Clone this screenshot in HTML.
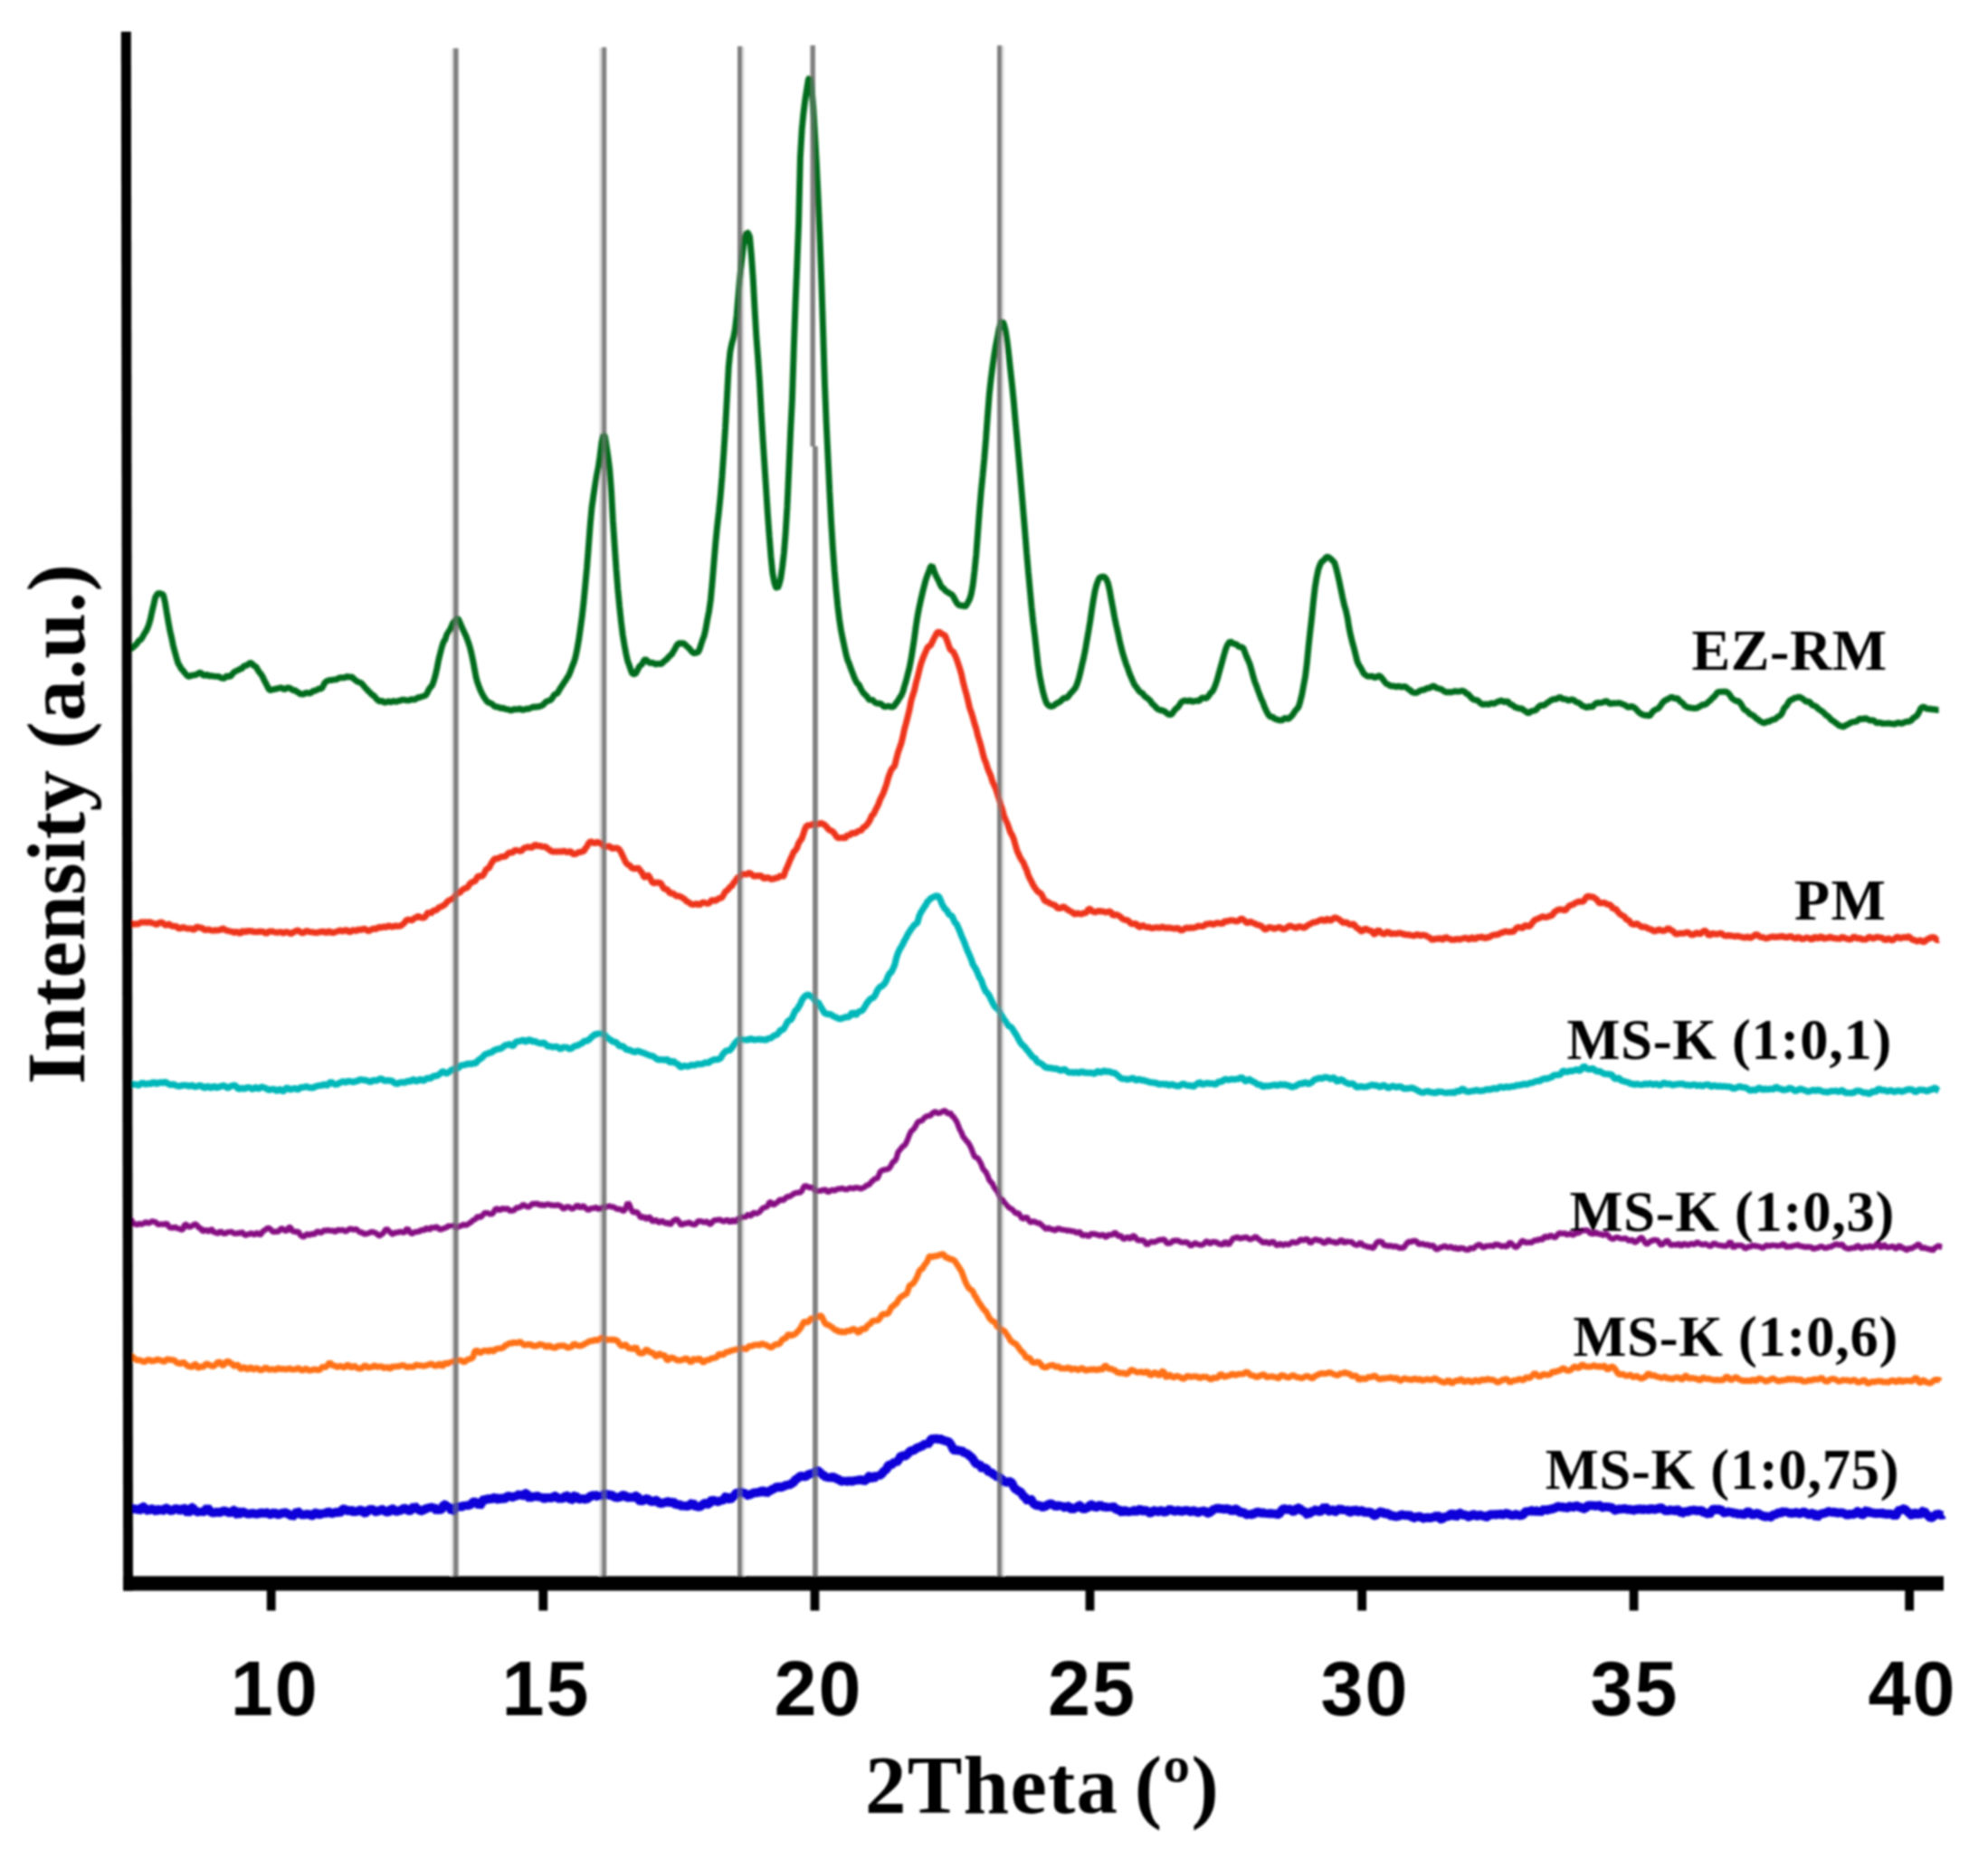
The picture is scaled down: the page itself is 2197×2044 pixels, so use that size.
<!DOCTYPE html>
<html lang="en"><head><meta charset="utf-8"><title>XRD patterns</title>
<style>
html,body{margin:0;padding:0;background:#fff;}
body{width:2197px;height:2044px;overflow:hidden;}
svg{display:block;}
.lab{font-family:"Liberation Serif",serif;font-weight:bold;font-size:64px;fill:#000;}
.ttl{font-family:"Liberation Serif",serif;font-weight:bold;font-size:91px;fill:#000;}
.tick{font-family:"Liberation Sans",sans-serif;font-weight:bold;font-size:84.5px;fill:#000;text-anchor:middle;letter-spacing:2px;}
.c{fill:none;stroke-linejoin:bevel;stroke-linecap:butt;}
</style></head><body>
<svg width="2197" height="2044" viewBox="0 0 2197 2044">
<defs><filter id="soft" x="0" y="0" width="2197" height="2044" filterUnits="userSpaceOnUse"><feGaussianBlur stdDeviation="1.2"/></filter></defs>
<rect x="0" y="0" width="2197" height="2044" fill="#ffffff"/>
<g filter="url(#soft)">
<g fill="#808080">
<rect x="500.8" y="53.5" width="5.7" height="1688.9"/>
<rect x="665.1" y="52.3" width="5.1" height="1690.1"/>
<rect x="815.0" y="51.2" width="5.3" height="1691.2"/>
<rect x="1102.0" y="50.3" width="5.3" height="1692.1"/>
<rect x="895.6" y="50.2" width="5.3" height="443"/>
<rect x="898.1" y="493" width="5.6" height="1249.4"/>
</g>
<g>
<rect x="498.4" y="54.0" width="2.4" height="1688.4" fill="#e8e8e8"/>
<rect x="662.4" y="53.0" width="2.7" height="1689.4" fill="#d6d6d6"/>
<rect x="820.3" y="52.0" width="2.4" height="1690.4" fill="#e2e2e2"/>
<rect x="1107.3" y="51.0" width="2.5" height="1691.4" fill="#e2e2e2"/>
</g>
<path class="c" d="M141.0 719.1 142.8 717.6 144.6 716.7 146.4 715.9 148.2 714.0 150.0 712.6 151.8 710.5 153.6 707.7 155.4 706.9 157.2 704.5 159.0 701.0 160.8 698.2 162.6 695.0 164.4 690.4 166.2 684.2 168.0 675.6 169.8 668.2 171.6 660.2 173.4 657.1 175.2 654.9 177.0 655.9 178.8 656.1 180.6 657.7 182.4 665.5 184.2 676.3 186.0 686.9 187.8 696.8 189.6 704.4 191.4 713.3 193.2 720.2 195.0 726.7 196.8 732.7 198.6 735.7 200.4 739.2 202.2 740.7 204.0 743.3 205.8 745.3 207.6 747.2 209.4 747.5 211.2 746.2 213.0 746.2 214.8 745.8 216.6 745.6 218.4 744.5 220.2 743.3 222.0 743.4 223.8 745.4 225.6 746.8 227.4 745.7 229.2 745.5 231.0 747.0 232.8 746.7 234.6 746.7 236.4 747.2 238.2 747.4 240.0 747.4 241.8 747.4 243.6 748.7 245.4 749.3 247.2 749.8 249.0 748.3 250.8 746.7 252.6 747.3 254.4 747.7 256.2 745.4 258.0 743.3 259.8 741.9 261.6 741.1 263.4 740.4 265.2 739.2 267.0 738.9 268.8 736.8 270.6 735.4 272.4 735.2 274.2 734.1 276.0 732.4 277.8 732.6 279.6 734.6 281.4 735.9 283.2 737.0 285.0 740.3 286.8 743.0 288.6 745.1 290.4 748.0 292.2 752.0 294.0 755.2 295.8 759.0 297.6 762.2 299.4 762.6 301.2 761.9 303.0 761.5 304.8 761.3 306.6 760.7 308.4 760.2 310.2 759.7 312.0 760.5 313.8 761.9 315.6 761.1 317.4 759.9 319.2 759.9 321.0 760.5 322.8 762.1 324.6 762.8 326.4 762.8 328.2 764.4 330.0 765.3 331.8 766.7 333.6 766.9 335.4 767.2 337.2 765.9 339.0 765.4 340.8 765.8 342.6 766.0 344.4 764.9 346.2 763.2 348.0 763.2 349.8 762.6 351.6 761.4 353.4 760.9 355.2 761.1 357.0 758.2 358.8 754.6 360.6 752.9 362.4 752.0 364.2 751.5 366.0 751.6 367.8 751.2 369.6 750.9 371.4 750.8 373.2 750.0 375.0 749.0 376.8 748.8 378.6 748.8 380.4 748.9 382.2 747.9 384.0 747.4 385.8 748.3 387.6 747.8 389.4 748.2 391.2 750.4 393.0 751.5 394.8 753.1 396.6 753.7 398.4 754.2 400.2 755.6 402.0 757.9 403.8 760.1 405.6 761.9 407.4 763.9 409.2 765.4 411.0 767.5 412.8 768.4 414.6 770.4 416.4 772.6 418.2 774.3 420.0 774.9 421.8 773.9 423.6 775.4 425.4 776.3 427.2 775.8 429.0 774.6 430.8 775.5 432.6 776.0 434.4 774.3 436.2 775.0 438.0 775.4 439.8 774.4 441.6 774.4 443.4 773.4 445.2 773.1 447.0 773.2 448.8 773.7 450.6 773.9 452.4 773.9 454.2 772.7 456.0 772.8 457.8 773.3 459.6 772.3 461.4 770.8 463.2 770.8 465.0 770.0 466.8 769.5 468.6 768.9 470.4 768.3 472.2 765.6 474.0 761.8 475.8 759.3 477.6 757.3 479.4 752.4 481.2 746.0 483.0 738.0 484.8 728.6 486.6 721.5 488.4 714.5 490.2 709.2 492.0 706.5 493.8 701.1 495.6 698.3 497.4 695.7 499.2 691.5 501.0 687.3 502.8 685.7 504.6 683.4 506.4 683.9 508.2 687.5 510.0 692.0 511.8 696.0 513.6 699.8 515.4 703.7 517.2 708.6 519.0 714.0 520.8 721.1 522.6 729.4 524.4 739.1 526.2 748.8 528.0 755.1 529.8 759.8 531.6 764.1 533.4 767.6 535.2 770.8 537.0 773.2 538.8 775.7 540.6 776.3 542.4 777.2 544.2 778.1 546.0 780.0 547.8 781.1 549.6 780.8 551.4 781.6 553.2 782.5 555.0 782.3 556.8 782.5 558.6 783.5 560.4 783.6 562.2 784.0 564.0 784.8 565.8 784.8 567.6 783.7 569.4 783.5 571.2 784.0 573.0 783.5 574.8 782.8 576.6 784.4 578.4 784.3 580.2 783.8 582.0 783.0 583.8 783.6 585.6 782.6 587.4 781.9 589.2 781.0 591.0 781.2 592.8 781.0 594.6 780.8 596.4 780.5 598.2 779.8 600.0 779.1 601.8 777.0 603.6 775.2 605.4 774.6 607.2 774.0 609.0 773.0 610.8 770.6 612.6 767.4 614.4 766.8 616.2 765.7 618.0 762.5 619.8 759.4 621.6 757.0 623.4 754.0 625.2 751.5 627.0 748.5 628.8 745.8 630.6 741.3 632.4 736.2 634.2 731.9 636.0 725.9 637.8 717.2 639.6 707.2 641.4 694.4 643.2 681.6 645.0 665.5 646.8 646.6 648.6 627.2 650.4 604.5 652.2 580.7 654.0 560.9 655.8 548.0 657.6 536.4 659.4 525.5 661.2 516.4 663.0 504.4 664.8 489.8 666.6 480.5 668.4 481.7 670.2 492.9 672.0 504.9 673.8 519.2 675.6 543.1 677.4 575.8 679.2 602.6 681.0 628.2 682.8 651.1 684.6 669.8 686.4 686.9 688.2 701.5 690.0 712.4 691.8 722.0 693.6 730.3 695.4 735.0 697.2 740.5 699.0 744.6 700.8 744.7 702.6 744.0 704.4 740.7 706.2 737.0 708.0 735.0 709.8 733.7 711.6 729.7 713.4 728.4 715.2 730.0 717.0 731.8 718.8 732.6 720.6 732.2 722.4 732.6 724.2 734.0 726.0 733.7 727.8 732.9 729.6 733.9 731.4 733.2 733.2 731.2 735.0 729.8 736.8 728.5 738.6 726.3 740.4 724.4 742.2 723.2 744.0 720.0 745.8 717.2 747.6 713.4 749.4 711.3 751.2 710.5 753.0 711.2 754.8 710.6 756.6 711.5 758.4 713.6 760.2 715.0 762.0 716.8 763.8 719.1 765.6 720.9 767.4 721.8 769.2 721.0 771.0 721.1 772.8 718.1 774.6 712.7 776.4 707.0 778.2 702.5 780.0 694.5 781.8 684.2 783.6 675.1 785.4 662.4 787.2 643.0 789.0 621.2 790.8 599.9 792.6 581.6 794.4 565.8 796.2 548.2 798.0 526.6 799.8 500.8 801.6 472.5 803.4 440.0 805.2 405.9 807.0 388.2 808.8 379.4 810.6 373.3 812.4 363.6 814.2 348.3 816.0 326.3 817.8 305.4 819.6 288.3 821.4 273.0 823.2 262.0 825.0 256.5 826.8 257.6 828.6 261.9 830.4 282.1 832.2 307.3 834.0 340.6 835.8 371.1 837.6 394.4 839.4 420.9 841.2 454.8 843.0 484.6 844.8 512.3 846.6 539.8 848.4 567.8 850.2 592.4 852.0 615.0 853.8 633.2 855.6 642.9 857.4 648.7 859.2 650.1 861.0 645.8 862.8 639.0 864.6 626.5 866.4 611.1 868.2 588.6 870.0 559.2 871.8 519.3 873.6 477.9 875.4 442.6 877.2 387.5 879.0 337.5 880.8 293.9 882.6 247.5 884.4 173.6 886.2 143.2 888.0 124.7 889.8 110.2 891.6 98.7 893.4 87.6 895.2 85.7 897.0 97.0 898.8 119.0 900.6 149.6 902.4 181.7 904.2 218.8 906.0 262.3 907.8 310.9 909.6 365.2 911.4 422.6 913.2 467.6 915.0 504.9 916.8 542.9 918.6 577.0 920.4 606.0 922.2 630.5 924.0 651.4 925.8 669.6 927.6 684.5 929.4 696.1 931.2 705.3 933.0 713.7 934.8 722.1 936.6 729.0 938.4 733.1 940.2 738.3 942.0 742.9 943.8 747.8 945.6 751.9 947.4 755.0 949.2 756.4 951.0 760.3 952.8 763.6 954.6 766.2 956.4 767.8 958.2 769.7 960.0 772.5 961.8 773.9 963.6 772.6 965.4 774.5 967.2 776.4 969.0 777.1 970.8 777.3 972.6 777.2 974.4 778.3 976.2 780.2 978.0 781.0 979.8 780.5 981.6 780.1 983.4 780.7 985.2 781.0 987.0 781.0 988.8 779.2 990.6 776.5 992.4 774.2 994.2 770.9 996.0 768.4 997.8 764.3 999.6 757.9 1001.4 752.0 1003.2 744.8 1005.0 737.8 1006.8 728.7 1008.6 717.4 1010.4 705.5 1012.2 692.3 1014.0 680.5 1015.8 671.2 1017.6 662.9 1019.4 655.1 1021.2 647.9 1023.0 641.1 1024.8 635.9 1026.6 631.4 1028.4 626.2 1030.2 624.9 1032.0 630.1 1033.8 634.9 1035.6 638.6 1037.4 641.8 1039.2 646.1 1041.0 649.2 1042.8 649.9 1044.6 652.5 1046.4 653.8 1048.2 654.7 1050.0 656.1 1051.8 656.7 1053.6 659.1 1055.4 662.7 1057.2 665.8 1059.0 668.1 1060.8 669.1 1062.6 669.0 1064.4 669.2 1066.2 670.6 1068.0 668.7 1069.8 665.4 1071.6 661.9 1073.4 656.0 1075.2 645.9 1077.0 630.6 1078.8 613.0 1080.6 589.2 1082.4 564.8 1084.2 543.7 1086.0 525.5 1087.8 506.6 1089.6 484.7 1091.4 460.1 1093.2 436.7 1095.0 419.8 1096.8 406.0 1098.6 393.2 1100.4 382.3 1102.2 373.5 1104.0 363.6 1105.8 356.7 1107.6 354.5 1109.4 358.0 1111.2 365.2 1113.0 376.8 1114.8 391.5 1116.6 408.4 1118.4 424.7 1120.2 442.6 1122.0 463.2 1123.8 483.1 1125.6 503.4 1127.4 524.3 1129.2 545.4 1131.0 566.9 1132.8 588.4 1134.6 611.0 1136.4 631.8 1138.2 651.2 1140.0 670.6 1141.8 687.6 1143.6 702.2 1145.4 718.5 1147.2 734.5 1149.0 746.9 1150.8 756.0 1152.6 764.4 1154.4 770.7 1156.2 776.2 1158.0 778.6 1159.8 780.2 1161.6 780.5 1163.4 780.2 1165.2 779.1 1167.0 777.5 1168.8 776.8 1170.6 775.6 1172.4 774.7 1174.2 772.4 1176.0 771.3 1177.8 771.3 1179.6 770.5 1181.4 768.3 1183.2 765.9 1185.0 764.1 1186.8 761.9 1188.6 759.8 1190.4 755.4 1192.2 749.8 1194.0 742.4 1195.8 734.4 1197.6 726.9 1199.4 718.0 1201.2 707.3 1203.0 697.0 1204.8 686.3 1206.6 673.7 1208.4 662.4 1210.2 652.3 1212.0 645.7 1213.8 640.9 1215.6 637.6 1217.4 637.5 1219.2 637.0 1221.0 637.7 1222.8 640.2 1224.6 644.8 1226.4 652.7 1228.2 663.0 1230.0 672.3 1231.8 682.4 1233.6 691.0 1235.4 698.6 1237.2 707.5 1239.0 714.9 1240.8 722.0 1242.6 727.7 1244.4 733.4 1246.2 738.0 1248.0 743.4 1249.8 747.7 1251.6 751.9 1253.4 755.9 1255.2 758.4 1257.0 760.8 1258.8 763.5 1260.6 765.1 1262.4 765.7 1264.2 768.3 1266.0 770.2 1267.8 771.1 1269.6 772.9 1271.4 774.4 1273.2 777.5 1275.0 778.9 1276.8 780.7 1278.6 782.9 1280.4 783.8 1282.2 784.8 1284.0 784.8 1285.8 785.5 1287.6 786.2 1289.4 787.9 1291.2 789.4 1293.0 789.6 1294.8 789.3 1296.6 786.7 1298.4 784.3 1300.2 782.5 1302.0 781.1 1303.8 778.3 1305.6 775.6 1307.4 774.5 1309.2 774.0 1311.0 774.3 1312.8 774.8 1314.6 773.9 1316.4 774.4 1318.2 775.3 1320.0 774.6 1321.8 774.4 1323.6 774.2 1325.4 774.5 1327.2 771.8 1329.0 771.0 1330.8 771.1 1332.6 771.9 1334.4 770.4 1336.2 768.1 1338.0 765.6 1339.8 763.9 1341.6 760.8 1343.4 756.3 1345.2 750.8 1347.0 744.2 1348.8 737.6 1350.6 731.2 1352.4 724.6 1354.2 718.4 1356.0 713.4 1357.8 710.4 1359.6 708.8 1361.4 709.9 1363.2 711.2 1365.0 711.4 1366.8 712.1 1368.6 714.1 1370.4 714.9 1372.2 715.0 1374.0 716.0 1375.8 720.7 1377.6 725.5 1379.4 729.5 1381.2 733.7 1383.0 739.9 1384.8 746.8 1386.6 753.0 1388.4 757.4 1390.2 762.6 1392.0 767.4 1393.8 772.2 1395.6 775.8 1397.4 780.8 1399.2 784.8 1401.0 788.3 1402.8 791.1 1404.6 792.2 1406.4 791.9 1408.2 793.9 1410.0 794.7 1411.8 794.9 1413.6 795.9 1415.4 795.8 1417.2 795.7 1419.0 794.0 1420.8 793.2 1422.6 794.2 1424.4 794.1 1426.2 792.2 1428.0 790.5 1429.8 787.8 1431.6 785.0 1433.4 783.3 1435.2 780.7 1437.0 774.7 1438.8 767.4 1440.6 757.7 1442.4 748.2 1444.2 734.0 1446.0 715.3 1447.8 698.5 1449.6 683.0 1451.4 665.1 1453.2 649.3 1455.0 638.4 1456.8 629.7 1458.6 624.5 1460.4 620.9 1462.2 619.6 1464.0 617.8 1465.8 615.5 1467.6 615.1 1469.4 616.5 1471.2 617.9 1473.0 619.7 1474.8 621.7 1476.6 627.7 1478.4 635.0 1480.2 643.1 1482.0 651.8 1483.8 660.5 1485.6 668.5 1487.4 674.5 1489.2 682.9 1491.0 694.2 1492.8 702.7 1494.6 710.0 1496.4 716.3 1498.2 723.6 1500.0 731.0 1501.8 734.9 1503.6 737.5 1505.4 740.9 1507.2 744.4 1509.0 745.6 1510.8 747.0 1512.6 747.4 1514.4 747.2 1516.2 746.9 1518.0 748.1 1519.8 748.8 1521.6 747.7 1523.4 746.8 1525.2 746.9 1527.0 749.0 1528.8 751.3 1530.6 753.8 1532.4 755.7 1534.2 756.2 1536.0 757.7 1537.8 758.0 1539.6 757.9 1541.4 758.4 1543.2 758.9 1545.0 758.3 1546.8 758.1 1548.6 759.2 1550.4 758.7 1552.2 758.5 1554.0 759.1 1555.8 761.0 1557.6 762.0 1559.4 763.5 1561.2 765.0 1563.0 765.4 1564.8 765.7 1566.6 764.9 1568.4 763.7 1570.2 762.8 1572.0 762.3 1573.8 762.2 1575.6 761.2 1577.4 760.3 1579.2 760.3 1581.0 759.5 1582.8 758.4 1584.6 757.9 1586.4 759.4 1588.2 760.3 1590.0 760.8 1591.8 761.2 1593.6 762.0 1595.4 763.3 1597.2 764.5 1599.0 764.8 1600.8 764.7 1602.6 764.6 1604.4 764.8 1606.2 764.3 1608.0 763.5 1609.8 764.0 1611.6 764.1 1613.4 763.8 1615.2 763.2 1617.0 763.5 1618.8 764.4 1620.6 766.4 1622.4 766.8 1624.2 768.9 1626.0 770.9 1627.8 772.6 1629.6 773.3 1631.4 773.4 1633.2 774.2 1635.0 775.8 1636.8 777.5 1638.6 778.2 1640.4 778.2 1642.2 777.9 1644.0 778.2 1645.8 778.3 1647.6 776.9 1649.4 777.1 1651.2 777.7 1653.0 776.5 1654.8 775.3 1656.6 775.0 1658.4 774.0 1660.2 774.3 1662.0 775.6 1663.8 775.5 1665.6 774.2 1667.4 776.4 1669.2 778.5 1671.0 778.5 1672.8 780.1 1674.6 781.9 1676.4 781.8 1678.2 782.7 1680.0 782.9 1681.8 782.7 1683.6 784.5 1685.4 785.5 1687.2 786.9 1689.0 787.9 1690.8 786.9 1692.6 785.6 1694.4 785.4 1696.2 784.9 1698.0 784.1 1699.8 781.6 1701.6 780.0 1703.4 779.1 1705.2 779.7 1707.0 778.8 1708.8 777.3 1710.6 776.1 1712.4 774.9 1714.2 773.7 1716.0 772.8 1717.8 772.3 1719.6 772.6 1721.4 771.5 1723.2 770.3 1725.0 770.8 1726.8 772.2 1728.6 772.4 1730.4 772.6 1732.2 773.6 1734.0 774.2 1735.8 773.0 1737.6 773.0 1739.4 773.6 1741.2 775.3 1743.0 775.9 1744.8 776.5 1746.6 777.8 1748.4 779.7 1750.2 780.3 1752.0 781.0 1753.8 782.0 1755.6 780.6 1757.4 780.4 1759.2 781.8 1761.0 779.6 1762.8 777.8 1764.6 776.7 1766.4 776.5 1768.2 776.6 1770.0 776.3 1771.8 775.9 1773.6 775.0 1775.4 774.5 1777.2 776.0 1779.0 777.5 1780.8 777.4 1782.6 776.8 1784.4 777.2 1786.2 776.9 1788.0 776.8 1789.8 776.6 1791.6 777.4 1793.4 778.2 1795.2 778.7 1797.0 779.9 1798.8 781.3 1800.6 781.3 1802.4 780.4 1804.2 780.7 1806.0 781.8 1807.8 783.2 1809.6 785.3 1811.4 787.2 1813.2 788.4 1815.0 789.4 1816.8 790.2 1818.6 790.2 1820.4 790.3 1822.2 791.2 1824.0 789.9 1825.8 787.1 1827.6 785.2 1829.4 784.1 1831.2 783.4 1833.0 782.5 1834.8 780.1 1836.6 777.4 1838.4 775.2 1840.2 773.8 1842.0 773.0 1843.8 772.2 1845.6 771.0 1847.4 769.8 1849.2 771.0 1851.0 772.2 1852.8 771.3 1854.6 772.2 1856.4 774.7 1858.2 775.9 1860.0 777.4 1861.8 779.8 1863.6 780.9 1865.4 781.7 1867.2 781.8 1869.0 782.3 1870.8 782.4 1872.6 782.5 1874.4 782.5 1876.2 781.9 1878.0 780.8 1879.8 779.9 1881.6 778.5 1883.4 778.7 1885.2 778.1 1887.0 776.5 1888.8 774.9 1890.6 773.4 1892.4 771.2 1894.2 769.9 1896.0 767.8 1897.8 765.2 1899.6 764.4 1901.4 764.4 1903.2 764.3 1905.0 764.3 1906.8 764.1 1908.6 764.7 1910.4 766.1 1912.2 768.7 1914.0 771.5 1915.8 772.8 1917.6 774.0 1919.4 774.7 1921.2 774.5 1923.0 776.6 1924.8 779.1 1926.6 782.4 1928.4 784.5 1930.2 785.0 1932.0 786.9 1933.8 788.8 1935.6 789.6 1937.4 790.5 1939.2 792.0 1941.0 794.0 1942.8 794.7 1944.6 796.6 1946.4 797.4 1948.2 798.5 1950.0 799.1 1951.8 797.7 1953.6 797.1 1955.4 797.2 1957.2 795.9 1959.0 795.2 1960.8 794.9 1962.6 793.9 1964.4 792.1 1966.2 791.3 1968.0 790.0 1969.8 787.1 1971.6 782.4 1973.4 780.9 1975.2 778.5 1977.0 775.2 1978.8 773.3 1980.6 772.9 1982.4 771.6 1984.2 771.0 1986.0 770.7 1987.8 770.0 1989.6 770.4 1991.4 771.4 1993.2 772.8 1995.0 774.5 1996.8 775.3 1998.6 775.0 2000.4 776.0 2002.2 778.7 2004.0 779.5 2005.8 780.1 2007.6 781.0 2009.4 783.3 2011.2 784.3 2013.0 785.6 2014.8 786.7 2016.6 788.7 2018.4 790.5 2020.2 791.3 2022.0 793.3 2023.8 795.5 2025.6 796.4 2027.4 797.7 2029.2 799.2 2031.0 800.4 2032.8 802.0 2034.6 802.1 2036.4 803.0 2038.2 802.7 2040.0 801.0 2041.8 800.6 2043.6 799.6 2045.4 798.3 2047.2 797.8 2049.0 797.4 2050.8 797.3 2052.6 796.5 2054.4 794.4 2056.2 794.1 2058.0 794.7 2059.8 794.4 2061.6 792.9 2063.4 794.6 2065.2 795.3 2067.0 796.3 2068.8 795.8 2070.6 795.9 2072.4 797.5 2074.2 799.0 2076.0 798.5 2077.8 797.9 2079.6 799.6 2081.4 799.3 2083.2 799.4 2085.0 799.4 2086.8 799.0 2088.6 799.3 2090.4 799.6 2092.2 799.8 2094.0 800.0 2095.8 799.3 2097.6 798.3 2099.4 798.8 2101.2 799.5 2103.0 799.0 2104.8 797.9 2106.6 797.5 2108.4 797.2 2110.2 797.0 2112.0 796.2 2113.8 794.0 2115.6 792.5 2117.4 791.6 2119.2 789.7 2121.0 786.4 2122.8 782.3 2124.6 781.5 2126.4 780.7 2128.2 782.8 2130.0 783.3 2131.8 783.1 2133.6 783.3 2135.4 784.0 2137.2 783.6 2139.0 784.2 2140.8 784.3 2142.6 784.2" stroke="#006c1e" stroke-width="6.9"/>
<path class="c" d="M141.0 1021.5 142.8 1020.7 144.6 1019.7 146.4 1021.0 148.2 1021.2 150.0 1020.5 151.8 1021.1 153.6 1020.7 155.4 1018.8 157.2 1019.1 159.0 1018.9 160.8 1018.7 162.6 1019.4 164.4 1018.7 166.2 1019.0 168.0 1019.8 169.8 1020.2 171.6 1020.8 173.4 1021.9 175.2 1019.9 177.0 1019.3 178.8 1018.8 180.6 1020.5 182.4 1022.1 184.2 1022.2 186.0 1020.8 187.8 1021.5 189.6 1023.2 191.4 1023.2 193.2 1023.6 195.0 1023.3 196.8 1025.4 198.6 1026.1 200.4 1025.4 202.2 1024.4 204.0 1025.0 205.8 1025.8 207.6 1026.1 209.4 1025.9 211.2 1026.0 213.0 1026.9 214.8 1027.3 216.6 1024.5 218.4 1024.1 220.2 1024.6 222.0 1025.2 223.8 1025.3 225.6 1027.3 227.4 1027.6 229.2 1027.1 231.0 1026.9 232.8 1027.8 234.6 1028.2 236.4 1028.1 238.2 1027.6 240.0 1028.1 241.8 1027.4 243.6 1028.0 245.4 1025.4 247.2 1026.4 249.0 1027.4 250.8 1028.5 252.6 1028.0 254.4 1029.6 256.2 1028.5 258.0 1030.6 259.8 1030.1 261.6 1029.3 263.4 1030.3 265.2 1031.8 267.0 1030.1 268.8 1027.6 270.6 1029.8 272.4 1029.4 274.2 1028.0 276.0 1029.2 277.8 1028.5 279.6 1029.4 281.4 1029.7 283.2 1029.3 285.0 1029.8 286.8 1028.9 288.6 1029.4 290.4 1029.2 292.2 1030.1 294.0 1031.8 295.8 1030.3 297.6 1028.8 299.4 1029.2 301.2 1029.1 303.0 1029.8 304.8 1030.2 306.6 1030.2 308.4 1029.9 310.2 1029.6 312.0 1030.6 313.8 1031.0 315.6 1029.7 317.4 1029.7 319.2 1030.4 321.0 1031.7 322.8 1031.2 324.6 1029.5 326.4 1029.2 328.2 1028.0 330.0 1028.3 331.8 1029.7 333.6 1030.7 335.4 1030.8 337.2 1029.2 339.0 1028.2 340.8 1029.5 342.6 1029.6 344.4 1029.9 346.2 1030.0 348.0 1030.4 349.8 1030.6 351.6 1030.2 353.4 1029.4 355.2 1029.9 357.0 1029.0 358.8 1029.6 360.6 1031.1 362.4 1029.5 364.2 1028.3 366.0 1030.3 367.8 1030.7 369.6 1030.3 371.4 1029.3 373.2 1028.9 375.0 1028.1 376.8 1028.1 378.6 1029.6 380.4 1028.2 382.2 1027.4 384.0 1028.1 385.8 1030.1 387.6 1029.4 389.4 1027.7 391.2 1027.7 393.0 1028.5 394.8 1028.1 396.6 1026.4 398.4 1027.6 400.2 1027.0 402.0 1026.1 403.8 1026.5 405.6 1028.1 407.4 1028.8 409.2 1027.5 411.0 1026.7 412.8 1025.7 414.6 1026.5 416.4 1026.3 418.2 1024.2 420.0 1024.7 421.8 1025.3 423.6 1023.4 425.4 1024.1 427.2 1024.5 429.0 1022.7 430.8 1023.2 432.6 1024.1 434.4 1024.1 436.2 1022.5 438.0 1023.4 439.8 1023.2 441.6 1023.2 443.4 1022.6 445.2 1021.1 447.0 1019.6 448.8 1016.9 450.6 1016.1 452.4 1016.2 454.2 1016.8 456.0 1016.8 457.8 1014.3 459.6 1013.9 461.4 1012.6 463.2 1012.4 465.0 1014.3 466.8 1013.7 468.6 1013.9 470.4 1012.5 472.2 1009.0 474.0 1007.8 475.8 1009.9 477.6 1007.5 479.4 1005.6 481.2 1006.2 483.0 1004.9 484.8 1003.0 486.6 1002.1 488.4 1001.4 490.2 1000.4 492.0 999.2 493.8 996.8 495.6 995.2 497.4 994.5 499.2 993.3 501.0 992.2 502.8 989.7 504.6 987.8 506.4 986.4 508.2 986.6 510.0 983.8 511.8 982.8 513.6 981.4 515.4 981.2 517.2 979.9 519.0 976.7 520.8 975.4 522.6 973.8 524.4 974.3 526.2 971.5 528.0 968.3 529.8 967.8 531.6 968.5 533.4 967.5 535.2 964.9 537.0 961.0 538.8 959.6 540.6 958.8 542.4 954.9 544.2 952.1 546.0 949.6 547.8 948.2 549.6 948.9 551.4 948.0 553.2 946.9 555.0 946.4 556.8 946.5 558.6 946.1 560.4 944.0 562.2 942.3 564.0 941.7 565.8 942.5 567.6 940.7 569.4 939.0 571.2 939.5 573.0 940.0 574.8 940.5 576.6 939.9 578.4 937.6 580.2 936.6 582.0 936.3 583.8 935.6 585.6 936.2 587.4 936.7 589.2 935.4 591.0 933.3 592.8 933.7 594.6 935.3 596.4 934.2 598.2 935.1 600.0 935.7 601.8 935.3 603.6 935.9 605.4 937.9 607.2 938.7 609.0 940.3 610.8 941.2 612.6 940.8 614.4 941.1 616.2 941.0 618.0 940.5 619.8 941.2 621.6 940.8 623.4 940.0 625.2 941.2 627.0 941.8 628.8 941.0 630.6 940.4 632.4 942.9 634.2 943.8 636.0 943.6 637.8 942.7 639.6 941.4 641.4 941.6 643.2 940.7 645.0 940.8 646.8 937.5 648.6 935.5 650.4 931.9 652.2 929.9 654.0 930.0 655.8 931.3 657.6 931.6 659.4 930.7 661.2 929.8 663.0 931.9 664.8 932.1 666.6 934.7 668.4 936.0 670.2 935.5 672.0 935.0 673.8 934.5 675.6 937.5 677.4 937.2 679.2 937.3 681.0 936.7 682.8 937.5 684.6 938.7 686.4 941.9 688.2 945.6 690.0 949.5 691.8 953.3 693.6 955.0 695.4 955.9 697.2 957.6 699.0 959.8 700.8 959.3 702.6 960.1 704.4 958.6 706.2 960.0 708.0 962.5 709.8 964.6 711.6 968.8 713.4 969.5 715.2 966.7 717.0 967.6 718.8 970.9 720.6 974.5 722.4 975.8 724.2 975.5 726.0 974.8 727.8 975.4 729.6 975.2 731.4 977.6 733.2 981.2 735.0 982.6 736.8 982.1 738.6 984.4 740.4 986.9 742.2 986.8 744.0 987.1 745.8 988.8 747.6 989.9 749.4 990.1 751.2 990.3 753.0 991.2 754.8 992.4 756.6 993.3 758.4 995.6 760.2 996.5 762.0 997.5 763.8 999.0 765.6 999.4 767.4 999.3 769.2 998.4 771.0 998.8 772.8 1000.4 774.6 998.3 776.4 997.2 778.2 997.1 780.0 997.9 781.8 998.3 783.6 998.1 785.4 995.9 787.2 993.9 789.0 995.1 790.8 995.4 792.6 993.8 794.4 992.6 796.2 992.4 798.0 991.6 799.8 988.4 801.6 985.1 803.4 983.9 805.2 982.2 807.0 979.7 808.8 978.9 810.6 975.8 812.4 973.6 814.2 970.9 816.0 969.0 817.8 969.0 819.6 966.6 821.4 965.4 823.2 966.0 825.0 966.2 826.8 965.0 828.6 964.2 830.4 965.9 832.2 967.3 834.0 968.6 835.8 967.5 837.6 967.7 839.4 967.5 841.2 967.5 843.0 969.7 844.8 971.0 846.6 969.8 848.4 969.5 850.2 970.0 852.0 971.7 853.8 970.9 855.6 970.9 857.4 970.0 859.2 970.0 861.0 968.8 862.8 967.3 864.6 969.0 866.4 967.2 868.2 961.5 870.0 957.9 871.8 953.5 873.6 949.1 875.4 945.5 877.2 941.2 879.0 939.6 880.8 936.8 882.6 931.4 884.4 928.7 886.2 926.3 888.0 920.8 889.8 915.3 891.6 912.1 893.4 912.0 895.2 911.8 897.0 911.3 898.8 909.9 900.6 911.1 902.4 910.7 904.2 910.8 906.0 909.7 907.8 909.4 909.6 910.5 911.4 911.4 913.2 913.2 915.0 915.6 916.8 917.3 918.6 917.9 920.4 918.8 922.2 921.0 924.0 923.9 925.8 925.7 927.6 925.7 929.4 925.7 931.2 925.3 933.0 926.1 934.8 925.4 936.6 922.1 938.4 923.1 940.2 921.9 942.0 919.7 943.8 920.8 945.6 920.4 947.4 919.1 949.2 917.5 951.0 918.6 952.8 916.0 954.6 913.7 956.4 913.1 958.2 910.8 960.0 908.5 961.8 905.3 963.6 900.7 965.4 899.7 967.2 895.6 969.0 892.1 970.8 888.5 972.6 883.3 974.4 879.9 976.2 876.2 978.0 871.3 979.8 866.1 981.6 859.5 983.4 854.3 985.2 850.1 987.0 848.0 988.8 845.9 990.6 838.3 992.4 831.5 994.2 826.3 996.0 821.3 997.8 813.9 999.6 805.2 1001.4 798.9 1003.2 791.6 1005.0 784.3 1006.8 775.0 1008.6 768.5 1010.4 763.2 1012.2 754.9 1014.0 748.3 1015.8 741.0 1017.6 733.9 1019.4 728.6 1021.2 724.2 1023.0 720.1 1024.8 715.9 1026.6 713.8 1028.4 713.3 1030.2 709.4 1032.0 705.7 1033.8 702.3 1035.6 698.9 1037.4 698.1 1039.2 698.9 1041.0 700.9 1042.8 701.2 1044.6 702.4 1046.4 707.2 1048.2 712.4 1050.0 717.2 1051.8 719.0 1053.6 720.3 1055.4 724.0 1057.2 728.1 1059.0 733.7 1060.8 739.0 1062.6 745.3 1064.4 753.9 1066.2 760.7 1068.0 766.9 1069.8 774.3 1071.6 782.1 1073.4 787.1 1075.2 792.8 1077.0 799.7 1078.8 805.0 1080.6 812.8 1082.4 818.5 1084.2 824.5 1086.0 831.9 1087.8 838.6 1089.6 842.7 1091.4 848.7 1093.2 853.3 1095.0 857.3 1096.8 863.5 1098.6 867.2 1100.4 871.1 1102.2 876.6 1104.0 882.4 1105.8 888.6 1107.6 894.0 1109.4 901.0 1111.2 905.6 1113.0 909.5 1114.8 914.5 1116.6 919.7 1118.4 922.5 1120.2 926.6 1122.0 933.0 1123.8 939.3 1125.6 943.6 1127.4 947.4 1129.2 950.5 1131.0 953.0 1132.8 957.6 1134.6 961.4 1136.4 967.1 1138.2 970.9 1140.0 974.2 1141.8 977.9 1143.6 980.8 1145.4 983.3 1147.2 985.4 1149.0 986.3 1150.8 987.7 1152.6 991.4 1154.4 994.8 1156.2 996.0 1158.0 996.4 1159.8 997.9 1161.6 998.5 1163.4 999.5 1165.2 999.7 1167.0 1001.3 1168.8 1003.5 1170.6 1003.6 1172.4 1003.5 1174.2 1001.9 1176.0 1002.0 1177.8 1003.5 1179.6 1005.0 1181.4 1005.8 1183.2 1007.2 1185.0 1007.6 1186.8 1009.8 1188.6 1010.0 1190.4 1008.7 1192.2 1009.6 1194.0 1009.7 1195.8 1009.9 1197.6 1008.7 1199.4 1008.7 1201.2 1007.6 1203.0 1004.2 1204.8 1004.3 1206.6 1006.5 1208.4 1007.3 1210.2 1008.1 1212.0 1007.3 1213.8 1006.1 1215.6 1007.0 1217.4 1006.8 1219.2 1007.1 1221.0 1007.6 1222.8 1008.2 1224.6 1007.2 1226.4 1007.1 1228.2 1008.2 1230.0 1011.9 1231.8 1010.9 1233.6 1010.5 1235.4 1011.1 1237.2 1012.3 1239.0 1013.8 1240.8 1015.5 1242.6 1016.1 1244.4 1016.6 1246.2 1016.8 1248.0 1018.4 1249.8 1020.5 1251.6 1020.7 1253.4 1020.7 1255.2 1020.1 1257.0 1022.6 1258.8 1024.2 1260.6 1024.2 1262.4 1021.6 1264.2 1023.3 1266.0 1024.3 1267.8 1024.4 1269.6 1024.2 1271.4 1025.1 1273.2 1025.8 1275.0 1025.2 1276.8 1024.8 1278.6 1024.8 1280.4 1024.9 1282.2 1025.1 1284.0 1024.2 1285.8 1023.9 1287.6 1026.1 1289.4 1024.8 1291.2 1025.2 1293.0 1025.0 1294.8 1025.6 1296.6 1025.7 1298.4 1026.3 1300.2 1025.6 1302.0 1025.4 1303.8 1027.1 1305.6 1028.2 1307.4 1027.3 1309.2 1026.0 1311.0 1024.8 1312.8 1025.3 1314.6 1025.5 1316.4 1024.8 1318.2 1025.4 1320.0 1024.8 1321.8 1024.4 1323.6 1023.3 1325.4 1023.0 1327.2 1023.5 1329.0 1023.6 1330.8 1022.8 1332.6 1021.1 1334.4 1020.9 1336.2 1020.7 1338.0 1019.7 1339.8 1021.5 1341.6 1021.3 1343.4 1020.2 1345.2 1019.5 1347.0 1020.1 1348.8 1019.9 1350.6 1021.0 1352.4 1019.2 1354.2 1017.2 1356.0 1018.2 1357.8 1017.4 1359.6 1016.8 1361.4 1017.0 1363.2 1017.1 1365.0 1017.6 1366.8 1018.1 1368.6 1017.4 1370.4 1015.8 1372.2 1015.0 1374.0 1015.9 1375.8 1017.7 1377.6 1019.4 1379.4 1019.9 1381.2 1018.0 1383.0 1018.9 1384.8 1019.7 1386.6 1020.3 1388.4 1021.4 1390.2 1021.9 1392.0 1022.4 1393.8 1023.0 1395.6 1024.8 1397.4 1026.6 1399.2 1027.1 1401.0 1025.2 1402.8 1024.4 1404.6 1025.0 1406.4 1025.3 1408.2 1026.4 1410.0 1025.4 1411.8 1025.1 1413.6 1024.3 1415.4 1025.0 1417.2 1026.3 1419.0 1027.0 1420.8 1025.5 1422.6 1024.9 1424.4 1022.9 1426.2 1023.0 1428.0 1023.7 1429.8 1024.4 1431.6 1025.4 1433.4 1025.0 1435.2 1023.3 1437.0 1024.1 1438.8 1024.0 1440.6 1025.6 1442.4 1024.5 1444.2 1023.0 1446.0 1021.8 1447.8 1021.0 1449.6 1020.0 1451.4 1018.9 1453.2 1019.1 1455.0 1018.4 1456.8 1017.7 1458.6 1016.7 1460.4 1016.2 1462.2 1016.1 1464.0 1018.6 1465.8 1015.8 1467.6 1015.1 1469.4 1016.9 1471.2 1017.1 1473.0 1015.0 1474.8 1013.8 1476.6 1014.1 1478.4 1015.0 1480.2 1016.0 1482.0 1017.5 1483.8 1019.3 1485.6 1019.6 1487.4 1018.7 1489.2 1019.8 1491.0 1021.2 1492.8 1021.8 1494.6 1020.9 1496.4 1021.2 1498.2 1024.0 1500.0 1025.7 1501.8 1025.8 1503.6 1028.6 1505.4 1029.3 1507.2 1027.2 1509.0 1025.8 1510.8 1026.8 1512.6 1028.0 1514.4 1028.5 1516.2 1028.2 1518.0 1031.9 1519.8 1032.4 1521.6 1029.0 1523.4 1027.5 1525.2 1029.3 1527.0 1031.0 1528.8 1032.1 1530.6 1031.6 1532.4 1030.0 1534.2 1028.8 1536.0 1031.1 1537.8 1032.0 1539.6 1031.3 1541.4 1031.6 1543.2 1031.8 1545.0 1031.1 1546.8 1030.7 1548.6 1031.6 1550.4 1031.4 1552.2 1033.1 1554.0 1032.4 1555.8 1032.9 1557.6 1032.7 1559.4 1033.4 1561.2 1033.7 1563.0 1034.0 1564.8 1032.8 1566.6 1032.2 1568.4 1033.5 1570.2 1033.7 1572.0 1033.0 1573.8 1033.3 1575.6 1033.4 1577.4 1035.0 1579.2 1035.5 1581.0 1036.8 1582.8 1039.0 1584.6 1037.6 1586.4 1037.2 1588.2 1037.5 1590.0 1036.8 1591.8 1036.7 1593.6 1038.3 1595.4 1037.7 1597.2 1034.7 1599.0 1036.3 1600.8 1037.0 1602.6 1037.4 1604.4 1038.7 1606.2 1038.0 1608.0 1038.4 1609.8 1037.5 1611.6 1037.5 1613.4 1038.2 1615.2 1037.2 1617.0 1036.9 1618.8 1036.1 1620.6 1036.4 1622.4 1038.0 1624.2 1037.6 1626.0 1035.6 1627.8 1036.1 1629.6 1038.7 1631.4 1036.4 1633.2 1035.3 1635.0 1036.0 1636.8 1035.1 1638.6 1035.3 1640.4 1036.6 1642.2 1036.4 1644.0 1035.4 1645.8 1035.7 1647.6 1034.3 1649.4 1033.3 1651.2 1033.0 1653.0 1032.6 1654.8 1032.8 1656.6 1032.0 1658.4 1030.7 1660.2 1030.5 1662.0 1029.6 1663.8 1028.9 1665.6 1029.3 1667.4 1029.9 1669.2 1029.3 1671.0 1029.6 1672.8 1029.1 1674.6 1026.8 1676.4 1025.0 1678.2 1024.3 1680.0 1024.9 1681.8 1025.5 1683.6 1024.7 1685.4 1022.1 1687.2 1022.7 1689.0 1023.4 1690.8 1023.4 1692.6 1020.7 1694.4 1018.4 1696.2 1016.3 1698.0 1015.7 1699.8 1014.9 1701.6 1014.2 1703.4 1013.3 1705.2 1012.5 1707.0 1013.2 1708.8 1013.5 1710.6 1013.0 1712.4 1011.8 1714.2 1011.9 1716.0 1010.6 1717.8 1007.5 1719.6 1006.7 1721.4 1005.3 1723.2 1004.8 1725.0 1005.1 1726.8 1004.9 1728.6 1005.8 1730.4 1005.5 1732.2 1003.0 1734.0 1001.0 1735.8 1000.1 1737.6 999.6 1739.4 998.9 1741.2 997.3 1743.0 996.9 1744.8 996.0 1746.6 996.2 1748.4 996.3 1750.2 995.5 1752.0 992.7 1753.8 990.4 1755.6 990.1 1757.4 991.2 1759.2 990.8 1761.0 991.1 1762.8 992.7 1764.6 993.8 1766.4 996.5 1768.2 998.4 1770.0 997.6 1771.8 997.6 1773.6 997.2 1775.4 999.0 1777.2 999.5 1779.0 999.6 1780.8 1001.0 1782.6 1004.4 1784.4 1003.7 1786.2 1004.7 1788.0 1007.5 1789.8 1009.5 1791.6 1010.8 1793.4 1011.7 1795.2 1012.7 1797.0 1015.5 1798.8 1016.5 1800.6 1017.1 1802.4 1020.4 1804.2 1021.1 1806.0 1021.8 1807.8 1020.5 1809.6 1020.8 1811.4 1022.1 1813.2 1023.4 1815.0 1024.7 1816.8 1023.7 1818.6 1024.6 1820.4 1025.0 1822.2 1026.4 1824.0 1026.7 1825.8 1027.1 1827.6 1029.2 1829.4 1028.5 1831.2 1028.2 1833.0 1026.7 1834.8 1027.4 1836.6 1028.3 1838.4 1028.4 1840.2 1028.0 1842.0 1026.7 1843.8 1025.2 1845.6 1027.1 1847.4 1028.0 1849.2 1029.1 1851.0 1031.1 1852.8 1032.4 1854.6 1031.4 1856.4 1031.3 1858.2 1031.3 1860.0 1031.3 1861.8 1031.0 1863.6 1030.2 1865.4 1030.1 1867.2 1031.4 1869.0 1032.9 1870.8 1032.8 1872.6 1032.4 1874.4 1030.3 1876.2 1031.0 1878.0 1031.9 1879.8 1031.5 1881.6 1029.5 1883.4 1028.3 1885.2 1028.6 1887.0 1031.3 1888.8 1034.2 1890.6 1032.5 1892.4 1030.9 1894.2 1031.9 1896.0 1032.1 1897.8 1032.3 1899.6 1031.6 1901.4 1030.9 1903.2 1031.9 1905.0 1033.5 1906.8 1033.9 1908.6 1034.0 1910.4 1032.8 1912.2 1034.0 1914.0 1033.9 1915.8 1034.2 1917.6 1034.9 1919.4 1034.1 1921.2 1034.3 1923.0 1034.9 1924.8 1035.2 1926.6 1035.7 1928.4 1036.0 1930.2 1035.2 1932.0 1035.0 1933.8 1036.9 1935.6 1035.5 1937.4 1034.8 1939.2 1033.3 1941.0 1032.0 1942.8 1033.3 1944.6 1034.9 1946.4 1035.6 1948.2 1035.6 1950.0 1036.3 1951.8 1036.8 1953.6 1036.6 1955.4 1035.6 1957.2 1035.3 1959.0 1034.8 1960.8 1034.9 1962.6 1036.2 1964.4 1034.6 1966.2 1035.1 1968.0 1035.0 1969.8 1033.7 1971.6 1035.5 1973.4 1035.6 1975.2 1035.7 1977.0 1034.9 1978.8 1034.1 1980.6 1035.5 1982.4 1036.3 1984.2 1037.1 1986.0 1036.1 1987.8 1034.7 1989.6 1036.8 1991.4 1037.5 1993.2 1037.2 1995.0 1036.6 1996.8 1035.7 1998.6 1036.3 2000.4 1036.9 2002.2 1038.9 2004.0 1036.5 2005.8 1034.8 2007.6 1036.0 2009.4 1037.4 2011.2 1035.3 2013.0 1034.1 2014.8 1037.1 2016.6 1037.0 2018.4 1036.2 2020.2 1036.7 2022.0 1035.3 2023.8 1035.2 2025.6 1036.9 2027.4 1036.5 2029.2 1036.9 2031.0 1037.0 2032.8 1037.5 2034.6 1036.3 2036.4 1034.8 2038.2 1036.5 2040.0 1036.7 2041.8 1037.5 2043.6 1037.7 2045.4 1038.2 2047.2 1036.3 2049.0 1034.5 2050.8 1036.0 2052.6 1037.2 2054.4 1036.6 2056.2 1036.8 2058.0 1038.3 2059.8 1037.7 2061.6 1038.1 2063.4 1037.1 2065.2 1035.3 2067.0 1035.5 2068.8 1036.6 2070.6 1037.1 2072.4 1035.9 2074.2 1035.1 2076.0 1035.5 2077.8 1036.0 2079.6 1036.0 2081.4 1037.0 2083.2 1039.2 2085.0 1038.0 2086.8 1036.6 2088.6 1037.6 2090.4 1039.3 2092.2 1038.6 2094.0 1037.1 2095.8 1035.4 2097.6 1035.1 2099.4 1036.5 2101.2 1036.8 2103.0 1035.4 2104.8 1035.6 2106.6 1036.3 2108.4 1034.7 2110.2 1035.1 2112.0 1037.2 2113.8 1038.4 2115.6 1038.6 2117.4 1039.5 2119.2 1040.1 2121.0 1039.2 2122.8 1038.6 2124.6 1040.6 2126.4 1040.7 2128.2 1039.2 2130.0 1037.5 2131.8 1037.3 2133.6 1035.8 2135.4 1036.0 2137.2 1035.1 2139.0 1037.1 2140.8 1039.0 2142.6 1038.4" stroke="#ee351a" stroke-width="7.0"/>
<path class="c" d="M141.0 1200.6 142.8 1199.2 144.6 1198.3 146.4 1197.9 148.2 1198.1 150.0 1198.0 151.8 1198.9 153.6 1199.1 155.4 1197.4 157.2 1195.9 159.0 1197.2 160.8 1198.2 162.6 1197.5 164.4 1197.1 166.2 1197.7 168.0 1196.9 169.8 1194.6 171.6 1197.0 173.4 1197.5 175.2 1196.6 177.0 1195.8 178.8 1196.3 180.6 1196.3 182.4 1195.1 184.2 1196.6 186.0 1197.4 187.8 1198.6 189.6 1198.5 191.4 1198.0 193.2 1198.6 195.0 1199.6 196.8 1200.0 198.6 1200.2 200.4 1199.4 202.2 1199.0 204.0 1199.3 205.8 1199.0 207.6 1199.7 209.4 1200.4 211.2 1199.0 213.0 1199.3 214.8 1200.9 216.6 1200.5 218.4 1200.2 220.2 1199.3 222.0 1199.3 223.8 1200.7 225.6 1202.4 227.4 1201.2 229.2 1199.5 231.0 1201.0 232.8 1202.0 234.6 1201.4 236.4 1199.8 238.2 1201.0 240.0 1202.5 241.8 1200.7 243.6 1200.6 245.4 1199.8 247.2 1199.2 249.0 1200.3 250.8 1202.0 252.6 1202.0 254.4 1200.2 256.2 1199.8 258.0 1199.3 259.8 1198.9 261.6 1201.5 263.4 1203.3 265.2 1203.0 267.0 1201.8 268.8 1202.9 270.6 1202.9 272.4 1201.7 274.2 1201.6 276.0 1201.7 277.8 1202.8 279.6 1203.7 281.4 1201.7 283.2 1201.3 285.0 1203.1 286.8 1202.5 288.6 1200.8 290.4 1201.2 292.2 1201.8 294.0 1202.5 295.8 1203.8 297.6 1204.4 299.4 1203.7 301.2 1203.5 303.0 1203.3 304.8 1204.9 306.6 1205.3 308.4 1203.7 310.2 1203.7 312.0 1205.9 313.8 1205.1 315.6 1202.6 317.4 1201.7 319.2 1203.1 321.0 1204.3 322.8 1203.1 324.6 1202.6 326.4 1202.6 328.2 1203.7 330.0 1203.7 331.8 1201.5 333.6 1201.4 335.4 1201.5 337.2 1200.7 339.0 1200.4 340.8 1201.7 342.6 1201.6 344.4 1202.0 346.2 1202.0 348.0 1200.5 349.8 1200.3 351.6 1199.5 353.4 1199.4 355.2 1199.5 357.0 1198.5 358.8 1197.8 360.6 1199.6 362.4 1198.6 364.2 1196.3 366.0 1195.2 367.8 1196.9 369.6 1198.0 371.4 1198.3 373.2 1197.8 375.0 1196.4 376.8 1196.0 378.6 1194.5 380.4 1195.4 382.2 1196.0 384.0 1194.7 385.8 1194.6 387.6 1194.9 389.4 1195.3 391.2 1195.7 393.0 1194.3 394.8 1194.8 396.6 1193.2 398.4 1192.8 400.2 1193.0 402.0 1193.4 403.8 1193.4 405.6 1194.0 407.4 1194.5 409.2 1195.8 411.0 1194.4 412.8 1193.4 414.6 1193.8 416.4 1193.9 418.2 1192.9 420.0 1191.8 421.8 1192.1 423.6 1193.3 425.4 1194.2 427.2 1193.9 429.0 1193.6 430.8 1194.1 432.6 1193.9 434.4 1195.1 436.2 1196.8 438.0 1197.3 439.8 1197.3 441.6 1196.1 443.4 1195.9 445.2 1195.5 447.0 1196.5 448.8 1195.4 450.6 1194.2 452.4 1194.8 454.2 1194.7 456.0 1192.5 457.8 1193.0 459.6 1194.9 461.4 1194.4 463.2 1193.0 465.0 1192.1 466.8 1194.0 468.6 1194.0 470.4 1192.5 472.2 1190.7 474.0 1191.5 475.8 1191.6 477.6 1190.0 479.4 1189.0 481.2 1188.6 483.0 1188.6 484.8 1187.5 486.6 1186.1 488.4 1184.2 490.2 1183.7 492.0 1185.6 493.8 1186.1 495.6 1185.0 497.4 1184.0 499.2 1181.7 501.0 1181.0 502.8 1180.8 504.6 1180.4 506.4 1180.4 508.2 1177.8 510.0 1177.0 511.8 1176.8 513.6 1176.4 515.4 1176.3 517.2 1174.4 519.0 1175.7 520.8 1175.6 522.6 1174.6 524.4 1174.9 526.2 1174.5 528.0 1171.9 529.8 1170.6 531.6 1169.4 533.4 1168.0 535.2 1165.8 537.0 1164.6 538.8 1164.3 540.6 1163.1 542.4 1163.1 544.2 1162.1 546.0 1160.3 547.8 1159.9 549.6 1159.1 551.4 1158.6 553.2 1158.8 555.0 1157.6 556.8 1156.2 558.6 1154.4 560.4 1154.9 562.2 1153.6 564.0 1154.0 565.8 1155.7 567.6 1155.2 569.4 1152.1 571.2 1150.4 573.0 1150.8 574.8 1150.2 576.6 1149.7 578.4 1148.8 580.2 1150.7 582.0 1151.1 583.8 1148.8 585.6 1148.8 587.4 1150.0 589.2 1151.0 591.0 1150.0 592.8 1151.6 594.6 1152.1 596.4 1152.4 598.2 1153.3 600.0 1152.0 601.8 1152.5 603.6 1154.3 605.4 1156.2 607.2 1156.0 609.0 1156.0 610.8 1157.1 612.6 1156.7 614.4 1156.3 616.2 1156.8 618.0 1158.3 619.8 1159.5 621.6 1157.1 623.4 1157.0 625.2 1157.0 627.0 1157.4 628.8 1158.8 630.6 1158.6 632.4 1157.9 634.2 1156.3 636.0 1155.4 637.8 1155.5 639.6 1154.4 641.4 1153.4 643.2 1152.9 645.0 1150.7 646.8 1150.0 648.6 1150.3 650.4 1149.1 652.2 1147.7 654.0 1145.4 655.8 1144.4 657.6 1142.7 659.4 1142.8 661.2 1142.1 663.0 1141.7 664.8 1142.7 666.6 1142.5 668.4 1143.1 670.2 1145.9 672.0 1147.1 673.8 1148.5 675.6 1149.5 677.4 1151.1 679.2 1151.1 681.0 1151.7 682.8 1153.7 684.6 1156.3 686.4 1155.6 688.2 1155.8 690.0 1157.2 691.8 1159.4 693.6 1160.0 695.4 1159.7 697.2 1160.9 699.0 1161.5 700.8 1162.3 702.6 1162.1 704.4 1161.0 706.2 1161.6 708.0 1162.2 709.8 1163.1 711.6 1163.5 713.4 1164.1 715.2 1165.1 717.0 1165.6 718.8 1166.5 720.6 1166.6 722.4 1167.3 724.2 1169.0 726.0 1170.1 727.8 1170.9 729.6 1170.8 731.4 1170.5 733.2 1171.2 735.0 1171.2 736.8 1170.1 738.6 1171.5 740.4 1174.4 742.2 1173.4 744.0 1171.7 745.8 1174.1 747.6 1175.3 749.4 1175.6 751.2 1178.6 753.0 1178.8 754.8 1178.1 756.6 1177.4 758.4 1177.9 760.2 1178.3 762.0 1177.7 763.8 1176.6 765.6 1176.9 767.4 1177.0 769.2 1176.4 771.0 1175.4 772.8 1175.8 774.6 1175.7 776.4 1175.5 778.2 1174.6 780.0 1173.3 781.8 1174.6 783.6 1174.1 785.4 1172.0 787.2 1171.7 789.0 1170.8 790.8 1170.5 792.6 1170.8 794.4 1170.1 796.2 1169.4 798.0 1166.3 799.8 1163.6 801.6 1162.1 803.4 1160.0 805.2 1161.3 807.0 1159.8 808.8 1157.7 810.6 1155.2 812.4 1152.3 814.2 1150.6 816.0 1148.8 817.8 1148.3 819.6 1148.5 821.4 1148.2 823.2 1149.6 825.0 1148.5 826.8 1149.0 828.6 1148.0 830.4 1147.5 832.2 1148.7 834.0 1148.9 835.8 1148.5 837.6 1148.4 839.4 1148.2 841.2 1148.7 843.0 1148.4 844.8 1148.9 846.6 1149.3 848.4 1147.6 850.2 1147.3 852.0 1146.9 853.8 1145.6 855.6 1144.1 857.4 1143.6 859.2 1142.7 861.0 1140.3 862.8 1137.8 864.6 1137.8 866.4 1136.4 868.2 1133.1 870.0 1129.4 871.8 1127.4 873.6 1127.2 875.4 1124.7 877.2 1120.3 879.0 1116.7 880.8 1115.3 882.6 1112.3 884.4 1109.5 886.2 1105.1 888.0 1102.4 889.8 1100.4 891.6 1099.4 893.4 1098.8 895.2 1100.3 897.0 1101.0 898.8 1102.5 900.6 1105.8 902.4 1107.2 904.2 1107.3 906.0 1110.6 907.8 1113.6 909.6 1116.6 911.4 1119.7 913.2 1119.9 915.0 1120.7 916.8 1120.5 918.6 1121.0 920.4 1122.4 922.2 1123.4 924.0 1124.0 925.8 1125.1 927.6 1125.6 929.4 1125.6 931.2 1124.8 933.0 1124.5 934.8 1123.5 936.6 1123.8 938.4 1123.4 940.2 1121.0 942.0 1118.1 943.8 1119.9 945.6 1122.1 947.4 1119.6 949.2 1117.5 951.0 1117.2 952.8 1116.6 954.6 1114.2 956.4 1111.1 958.2 1108.0 960.0 1106.1 961.8 1103.7 963.6 1103.0 965.4 1102.1 967.2 1099.4 969.0 1095.4 970.8 1092.3 972.6 1090.3 974.4 1089.8 976.2 1088.3 978.0 1086.1 979.8 1082.7 981.6 1078.2 983.4 1075.1 985.2 1073.9 987.0 1070.0 988.8 1066.0 990.6 1058.4 992.4 1053.0 994.2 1049.1 996.0 1046.1 997.8 1042.9 999.6 1039.1 1001.4 1036.2 1003.2 1032.3 1005.0 1029.6 1006.8 1026.7 1008.6 1024.4 1010.4 1022.0 1012.2 1020.8 1014.0 1019.2 1015.8 1012.2 1017.6 1008.3 1019.4 1005.6 1021.2 1002.4 1023.0 1000.0 1024.8 996.5 1026.6 994.9 1028.4 992.6 1030.2 991.9 1032.0 990.8 1033.8 990.1 1035.6 989.7 1037.4 990.5 1039.2 994.0 1041.0 998.8 1042.8 1001.9 1044.6 1004.6 1046.4 1005.9 1048.2 1009.4 1050.0 1011.4 1051.8 1011.3 1053.6 1015.5 1055.4 1019.5 1057.2 1020.9 1059.0 1025.0 1060.8 1029.2 1062.6 1034.1 1064.4 1038.0 1066.2 1042.4 1068.0 1047.4 1069.8 1051.8 1071.6 1055.7 1073.4 1060.2 1075.2 1065.6 1077.0 1068.4 1078.8 1071.4 1080.6 1075.7 1082.4 1080.0 1084.2 1082.4 1086.0 1087.7 1087.8 1092.3 1089.6 1095.7 1091.4 1097.4 1093.2 1099.9 1095.0 1103.8 1096.8 1107.4 1098.6 1111.0 1100.4 1112.9 1102.2 1114.4 1104.0 1116.3 1105.8 1119.6 1107.6 1123.1 1109.4 1126.3 1111.2 1128.4 1113.0 1131.6 1114.8 1133.8 1116.6 1134.2 1118.4 1136.0 1120.2 1139.0 1122.0 1141.9 1123.8 1144.5 1125.6 1148.3 1127.4 1151.4 1129.2 1153.9 1131.0 1155.3 1132.8 1157.1 1134.6 1159.7 1136.4 1161.5 1138.2 1164.1 1140.0 1166.3 1141.8 1168.6 1143.6 1168.3 1145.4 1171.8 1147.2 1173.9 1149.0 1174.2 1150.8 1175.3 1152.6 1176.6 1154.4 1178.6 1156.2 1179.6 1158.0 1179.4 1159.8 1180.4 1161.6 1179.7 1163.4 1180.5 1165.2 1180.9 1167.0 1180.3 1168.8 1181.5 1170.6 1182.0 1172.4 1183.0 1174.2 1182.1 1176.0 1181.3 1177.8 1182.2 1179.6 1184.1 1181.4 1185.0 1183.2 1185.0 1185.0 1184.6 1186.8 1185.3 1188.6 1184.7 1190.4 1184.9 1192.2 1185.8 1194.0 1184.6 1195.8 1183.4 1197.6 1185.1 1199.4 1185.1 1201.2 1185.0 1203.0 1185.9 1204.8 1185.0 1206.6 1185.4 1208.4 1186.0 1210.2 1186.6 1212.0 1183.6 1213.8 1183.9 1215.6 1184.7 1217.4 1184.8 1219.2 1183.3 1221.0 1183.2 1222.8 1184.4 1224.6 1183.7 1226.4 1184.1 1228.2 1184.9 1230.0 1185.5 1231.8 1185.2 1233.6 1186.7 1235.4 1188.5 1237.2 1190.0 1239.0 1191.6 1240.8 1192.0 1242.6 1192.0 1244.4 1192.2 1246.2 1193.0 1248.0 1192.1 1249.8 1191.9 1251.6 1191.1 1253.4 1191.9 1255.2 1193.8 1257.0 1193.2 1258.8 1192.0 1260.6 1193.3 1262.4 1193.6 1264.2 1193.4 1266.0 1194.5 1267.8 1194.7 1269.6 1195.4 1271.4 1196.1 1273.2 1195.7 1275.0 1196.7 1276.8 1196.3 1278.6 1196.7 1280.4 1198.3 1282.2 1198.0 1284.0 1197.4 1285.8 1197.9 1287.6 1198.1 1289.4 1197.5 1291.2 1199.1 1293.0 1198.9 1294.8 1197.8 1296.6 1198.4 1298.4 1199.7 1300.2 1199.3 1302.0 1200.9 1303.8 1199.3 1305.6 1198.5 1307.4 1197.0 1309.2 1198.3 1311.0 1198.9 1312.8 1199.5 1314.6 1199.3 1316.4 1199.3 1318.2 1201.0 1320.0 1199.8 1321.8 1198.1 1323.6 1197.5 1325.4 1195.3 1327.2 1196.9 1329.0 1198.6 1330.8 1197.5 1332.6 1197.0 1334.4 1196.4 1336.2 1197.5 1338.0 1197.2 1339.8 1197.0 1341.6 1197.9 1343.4 1198.4 1345.2 1196.7 1347.0 1194.4 1348.8 1195.3 1350.6 1195.0 1352.4 1193.1 1354.2 1192.2 1356.0 1192.9 1357.8 1193.1 1359.6 1192.8 1361.4 1192.2 1363.2 1192.6 1365.0 1192.6 1366.8 1192.1 1368.6 1192.1 1370.4 1191.0 1372.2 1190.2 1374.0 1191.9 1375.8 1194.1 1377.6 1195.1 1379.4 1192.1 1381.2 1192.7 1383.0 1193.9 1384.8 1195.3 1386.6 1195.6 1388.4 1197.2 1390.2 1198.5 1392.0 1197.9 1393.8 1199.1 1395.6 1201.0 1397.4 1200.3 1399.2 1198.9 1401.0 1200.8 1402.8 1199.6 1404.6 1199.5 1406.4 1199.1 1408.2 1198.7 1410.0 1198.9 1411.8 1199.6 1413.6 1198.6 1415.4 1197.9 1417.2 1198.6 1419.0 1198.7 1420.8 1197.9 1422.6 1199.4 1424.4 1199.3 1426.2 1200.4 1428.0 1201.2 1429.8 1200.4 1431.6 1200.0 1433.4 1199.0 1435.2 1197.9 1437.0 1196.9 1438.8 1197.6 1440.6 1196.8 1442.4 1195.2 1444.2 1196.9 1446.0 1197.9 1447.8 1196.8 1449.6 1196.0 1451.4 1193.9 1453.2 1192.4 1455.0 1192.4 1456.8 1191.5 1458.6 1190.8 1460.4 1191.9 1462.2 1191.1 1464.0 1190.1 1465.8 1190.4 1467.6 1190.6 1469.4 1191.6 1471.2 1192.4 1473.0 1190.7 1474.8 1190.8 1476.6 1193.9 1478.4 1195.3 1480.2 1193.3 1482.0 1192.6 1483.8 1193.3 1485.6 1195.1 1487.4 1196.1 1489.2 1196.8 1491.0 1197.9 1492.8 1197.3 1494.6 1197.2 1496.4 1198.0 1498.2 1200.5 1500.0 1201.4 1501.8 1200.9 1503.6 1199.7 1505.4 1200.9 1507.2 1200.8 1509.0 1200.9 1510.8 1200.7 1512.6 1199.9 1514.4 1199.3 1516.2 1198.4 1518.0 1199.1 1519.8 1199.5 1521.6 1199.1 1523.4 1200.4 1525.2 1201.4 1527.0 1200.0 1528.8 1199.0 1530.6 1199.4 1532.4 1200.9 1534.2 1202.3 1536.0 1201.3 1537.8 1200.3 1539.6 1199.6 1541.4 1200.9 1543.2 1201.4 1545.0 1200.7 1546.8 1200.6 1548.6 1200.7 1550.4 1202.2 1552.2 1203.1 1554.0 1202.7 1555.8 1202.7 1557.6 1202.4 1559.4 1201.9 1561.2 1202.1 1563.0 1202.9 1564.8 1203.9 1566.6 1204.7 1568.4 1205.9 1570.2 1206.6 1572.0 1207.3 1573.8 1206.9 1575.6 1206.1 1577.4 1205.8 1579.2 1205.6 1581.0 1207.6 1582.8 1206.7 1584.6 1207.0 1586.4 1208.2 1588.2 1206.3 1590.0 1206.0 1591.8 1206.5 1593.6 1206.4 1595.4 1206.9 1597.2 1207.3 1599.0 1207.5 1600.8 1207.1 1602.6 1207.2 1604.4 1206.7 1606.2 1207.4 1608.0 1207.3 1609.8 1205.1 1611.6 1205.7 1613.4 1205.8 1615.2 1203.5 1617.0 1202.7 1618.8 1205.2 1620.6 1205.7 1622.4 1206.4 1624.2 1206.0 1626.0 1205.6 1627.8 1205.3 1629.6 1205.2 1631.4 1204.4 1633.2 1204.7 1635.0 1205.6 1636.8 1205.1 1638.6 1205.2 1640.4 1204.6 1642.2 1203.8 1644.0 1203.4 1645.8 1204.2 1647.6 1203.4 1649.4 1203.1 1651.2 1202.0 1653.0 1202.9 1654.8 1203.1 1656.6 1201.6 1658.4 1200.5 1660.2 1201.4 1662.0 1201.6 1663.8 1200.8 1665.6 1200.7 1667.4 1201.5 1669.2 1200.7 1671.0 1200.2 1672.8 1200.6 1674.6 1199.7 1676.4 1198.9 1678.2 1199.4 1680.0 1198.7 1681.8 1198.7 1683.6 1197.5 1685.4 1197.8 1687.2 1198.3 1689.0 1197.4 1690.8 1196.7 1692.6 1196.4 1694.4 1196.0 1696.2 1195.1 1698.0 1194.5 1699.8 1194.2 1701.6 1194.7 1703.4 1192.8 1705.2 1192.5 1707.0 1191.4 1708.8 1192.0 1710.6 1192.0 1712.4 1190.3 1714.2 1190.9 1716.0 1188.7 1717.8 1187.8 1719.6 1188.0 1721.4 1187.1 1723.2 1187.9 1725.0 1186.6 1726.8 1183.3 1728.6 1183.3 1730.4 1184.2 1732.2 1184.6 1734.0 1183.3 1735.8 1183.2 1737.6 1183.6 1739.4 1182.5 1741.2 1182.2 1743.0 1181.4 1744.8 1182.9 1746.6 1182.9 1748.4 1179.9 1750.2 1178.0 1752.0 1179.0 1753.8 1181.2 1755.6 1181.2 1757.4 1181.8 1759.2 1180.5 1761.0 1180.8 1762.8 1182.6 1764.6 1184.1 1766.4 1183.6 1768.2 1183.5 1770.0 1185.0 1771.8 1185.9 1773.6 1186.6 1775.4 1186.5 1777.2 1186.8 1779.0 1187.2 1780.8 1186.6 1782.6 1189.5 1784.4 1191.9 1786.2 1191.9 1788.0 1190.9 1789.8 1191.6 1791.6 1194.2 1793.4 1194.2 1795.2 1194.7 1797.0 1195.5 1798.8 1195.5 1800.6 1196.6 1802.4 1197.8 1804.2 1197.2 1806.0 1198.5 1807.8 1197.9 1809.6 1197.6 1811.4 1198.2 1813.2 1198.5 1815.0 1198.5 1816.8 1197.8 1818.6 1197.3 1820.4 1198.5 1822.2 1197.4 1824.0 1196.8 1825.8 1198.1 1827.6 1198.3 1829.4 1197.6 1831.2 1197.7 1833.0 1198.7 1834.8 1199.5 1836.6 1197.7 1838.4 1196.2 1840.2 1196.9 1842.0 1198.0 1843.8 1197.5 1845.6 1197.4 1847.4 1198.6 1849.2 1198.9 1851.0 1198.2 1852.8 1198.2 1854.6 1197.6 1856.4 1197.6 1858.2 1197.6 1860.0 1197.4 1861.8 1198.7 1863.6 1198.8 1865.4 1198.6 1867.2 1199.1 1869.0 1199.1 1870.8 1198.5 1872.6 1198.4 1874.4 1199.0 1876.2 1200.1 1878.0 1198.5 1879.8 1199.4 1881.6 1200.3 1883.4 1198.9 1885.2 1198.5 1887.0 1198.3 1888.8 1198.6 1890.6 1200.8 1892.4 1200.2 1894.2 1199.1 1896.0 1199.6 1897.8 1200.4 1899.6 1200.1 1901.4 1199.9 1903.2 1200.7 1905.0 1200.1 1906.8 1200.4 1908.6 1200.9 1910.4 1200.5 1912.2 1200.9 1914.0 1201.6 1915.8 1203.6 1917.6 1202.1 1919.4 1201.8 1921.2 1200.7 1923.0 1200.3 1924.8 1201.2 1926.6 1201.4 1928.4 1201.5 1930.2 1202.1 1932.0 1203.5 1933.8 1204.9 1935.6 1204.7 1937.4 1203.6 1939.2 1204.6 1941.0 1204.4 1942.8 1202.3 1944.6 1201.9 1946.4 1203.0 1948.2 1204.5 1950.0 1203.2 1951.8 1203.0 1953.6 1204.1 1955.4 1203.2 1957.2 1203.1 1959.0 1203.7 1960.8 1202.8 1962.6 1200.7 1964.4 1201.7 1966.2 1203.3 1968.0 1202.8 1969.8 1204.3 1971.6 1204.1 1973.4 1204.1 1975.2 1203.7 1977.0 1202.1 1978.8 1202.5 1980.6 1203.0 1982.4 1204.6 1984.2 1205.8 1986.0 1204.7 1987.8 1203.9 1989.6 1202.6 1991.4 1203.6 1993.2 1204.3 1995.0 1204.7 1996.8 1205.8 1998.6 1206.4 2000.4 1205.5 2002.2 1204.9 2004.0 1204.0 2005.8 1205.3 2007.6 1204.9 2009.4 1203.8 2011.2 1204.9 2013.0 1205.2 2014.8 1206.3 2016.6 1206.3 2018.4 1206.3 2020.2 1207.2 2022.0 1205.9 2023.8 1205.3 2025.6 1205.6 2027.4 1205.5 2029.2 1205.1 2031.0 1206.1 2032.8 1206.1 2034.6 1204.8 2036.4 1204.4 2038.2 1206.7 2040.0 1207.6 2041.8 1207.3 2043.6 1207.5 2045.4 1207.8 2047.2 1207.1 2049.0 1207.3 2050.8 1205.8 2052.6 1204.9 2054.4 1205.4 2056.2 1205.6 2058.0 1206.7 2059.8 1207.7 2061.6 1207.0 2063.4 1207.5 2065.2 1208.6 2067.0 1208.0 2068.8 1206.1 2070.6 1205.7 2072.4 1207.0 2074.2 1204.6 2076.0 1202.8 2077.8 1203.4 2079.6 1205.5 2081.4 1204.3 2083.2 1204.6 2085.0 1205.5 2086.8 1206.1 2088.6 1204.4 2090.4 1204.9 2092.2 1205.9 2094.0 1206.5 2095.8 1205.4 2097.6 1205.1 2099.4 1205.1 2101.2 1206.2 2103.0 1206.0 2104.8 1204.9 2106.6 1204.6 2108.4 1203.4 2110.2 1203.9 2112.0 1203.6 2113.8 1204.1 2115.6 1205.9 2117.4 1206.7 2119.2 1205.1 2121.0 1204.0 2122.8 1204.0 2124.6 1204.5 2126.4 1204.3 2128.2 1205.2 2130.0 1205.7 2131.8 1204.6 2133.6 1203.6 2135.4 1203.8 2137.2 1202.4 2139.0 1201.7 2140.8 1204.3 2142.6 1205.2" stroke="#00b7b9" stroke-width="7.2"/>
<path class="c" d="M141.0 1354.0 142.8 1350.8 144.6 1347.1 146.4 1349.9 148.2 1352.5 150.0 1352.5 151.8 1353.5 153.6 1351.8 155.4 1352.4 157.2 1352.6 159.0 1351.6 160.8 1349.9 162.6 1351.0 164.4 1351.7 166.2 1350.5 168.0 1349.2 169.8 1349.7 171.6 1350.0 173.4 1351.9 175.2 1353.0 177.0 1352.7 178.8 1352.6 180.6 1352.6 182.4 1352.6 184.2 1351.4 186.0 1354.4 187.8 1356.6 189.6 1356.2 191.4 1356.8 193.2 1355.4 195.0 1356.6 196.8 1357.3 198.6 1357.9 200.4 1358.6 202.2 1358.7 204.0 1352.8 205.8 1352.9 207.6 1354.9 209.4 1355.8 211.2 1355.0 213.0 1354.0 214.8 1352.7 216.6 1352.7 218.4 1354.6 220.2 1357.1 222.0 1356.9 223.8 1360.5 225.6 1359.8 227.4 1358.4 229.2 1360.1 231.0 1360.7 232.8 1358.2 234.6 1358.6 236.4 1362.1 238.2 1361.4 240.0 1362.8 241.8 1362.3 243.6 1359.9 245.4 1361.8 247.2 1362.9 249.0 1363.0 250.8 1361.5 252.6 1361.3 254.4 1361.0 256.2 1360.8 258.0 1362.7 259.8 1362.8 261.6 1362.8 263.4 1362.2 265.2 1362.7 267.0 1361.2 268.8 1362.4 270.6 1365.0 272.4 1364.3 274.2 1363.7 276.0 1363.5 277.8 1362.0 279.6 1363.6 281.4 1364.2 283.2 1362.6 285.0 1362.1 286.8 1364.8 288.6 1363.3 290.4 1360.5 292.2 1359.6 294.0 1358.0 295.8 1356.9 297.6 1356.9 299.4 1358.6 301.2 1360.8 303.0 1361.2 304.8 1360.5 306.6 1361.2 308.4 1360.1 310.2 1357.4 312.0 1357.3 313.8 1359.0 315.6 1360.1 317.4 1359.6 319.2 1356.0 321.0 1355.9 322.8 1360.3 324.6 1360.2 326.4 1361.3 328.2 1360.9 330.0 1360.8 331.8 1364.5 333.6 1365.8 335.4 1366.8 337.2 1365.4 339.0 1363.2 340.8 1364.0 342.6 1364.8 344.4 1363.0 346.2 1363.5 348.0 1363.7 349.8 1360.8 351.6 1360.6 353.4 1361.7 355.2 1362.1 357.0 1360.2 358.8 1359.1 360.6 1359.8 362.4 1359.0 364.2 1359.7 366.0 1359.8 367.8 1359.5 369.6 1360.9 371.4 1360.7 373.2 1358.2 375.0 1359.3 376.8 1359.1 378.6 1358.8 380.4 1359.8 382.2 1360.8 384.0 1359.4 385.8 1358.1 387.6 1357.3 389.4 1358.4 391.2 1358.7 393.0 1357.8 394.8 1358.7 396.6 1360.7 398.4 1361.8 400.2 1361.2 402.0 1363.5 403.8 1363.4 405.6 1362.9 407.4 1362.5 409.2 1361.6 411.0 1360.8 412.8 1361.5 414.6 1362.0 416.4 1362.9 418.2 1365.0 420.0 1365.4 421.8 1363.6 423.6 1362.5 425.4 1359.5 427.2 1357.5 429.0 1359.4 430.8 1361.0 432.6 1363.0 434.4 1363.8 436.2 1361.6 438.0 1361.9 439.8 1361.7 441.6 1360.7 443.4 1361.1 445.2 1361.6 447.0 1362.0 448.8 1358.6 450.6 1357.1 452.4 1360.5 454.2 1363.0 456.0 1362.8 457.8 1361.2 459.6 1361.3 461.4 1360.6 463.2 1361.0 465.0 1359.2 466.8 1358.7 468.6 1359.9 470.4 1357.3 472.2 1356.6 474.0 1359.0 475.8 1357.5 477.6 1355.1 479.4 1357.4 481.2 1355.7 483.0 1355.6 484.8 1357.2 486.6 1359.3 488.4 1357.7 490.2 1357.4 492.0 1356.6 493.8 1356.0 495.6 1354.1 497.4 1354.8 499.2 1354.2 501.0 1353.7 502.8 1355.5 504.6 1356.7 506.4 1355.6 508.2 1354.5 510.0 1354.4 511.8 1352.7 513.6 1353.5 515.4 1353.7 517.2 1352.4 519.0 1351.3 520.8 1350.3 522.6 1348.3 524.4 1347.5 526.2 1346.3 528.0 1343.2 529.8 1345.0 531.6 1344.5 533.4 1342.6 535.2 1340.4 537.0 1340.0 538.8 1340.0 540.6 1341.2 542.4 1341.5 544.2 1341.2 546.0 1338.5 547.8 1335.2 549.6 1335.6 551.4 1336.9 553.2 1336.9 555.0 1334.9 556.8 1335.7 558.6 1336.0 560.4 1335.1 562.2 1336.3 564.0 1338.6 565.8 1337.2 567.6 1337.8 569.4 1335.7 571.2 1333.9 573.0 1334.5 574.8 1333.7 576.6 1332.4 578.4 1330.5 580.2 1332.4 582.0 1332.8 583.8 1333.9 585.6 1332.7 587.4 1330.8 589.2 1329.8 591.0 1330.4 592.8 1329.8 594.6 1329.9 596.4 1332.2 598.2 1330.8 600.0 1331.3 601.8 1332.0 603.6 1330.8 605.4 1330.5 607.2 1330.8 609.0 1331.6 610.8 1331.7 612.6 1331.9 614.4 1331.7 616.2 1331.4 618.0 1331.8 619.8 1332.6 621.6 1334.7 623.4 1336.1 625.2 1333.9 627.0 1333.3 628.8 1333.3 630.6 1334.8 632.4 1335.9 634.2 1334.7 636.0 1333.6 637.8 1331.1 639.6 1333.2 641.4 1334.5 643.2 1333.0 645.0 1332.2 646.8 1334.6 648.6 1335.9 650.4 1337.4 652.2 1335.4 654.0 1334.9 655.8 1335.0 657.6 1334.6 659.4 1333.5 661.2 1336.3 663.0 1336.0 664.8 1334.1 666.6 1333.5 668.4 1334.2 670.2 1333.7 672.0 1332.5 673.8 1332.6 675.6 1333.4 677.4 1333.4 679.2 1334.2 681.0 1335.4 682.8 1336.1 684.6 1335.7 686.4 1336.4 688.2 1338.0 690.0 1337.7 691.8 1334.0 693.6 1328.8 695.4 1330.7 697.2 1335.4 699.0 1338.8 700.8 1339.5 702.6 1338.9 704.4 1339.7 706.2 1342.1 708.0 1345.6 709.8 1344.8 711.6 1344.0 713.4 1346.6 715.2 1346.6 717.0 1343.9 718.8 1345.8 720.6 1349.2 722.4 1349.3 724.2 1347.3 726.0 1348.9 727.8 1350.8 729.6 1350.2 731.4 1348.7 733.2 1349.9 735.0 1351.6 736.8 1351.2 738.6 1350.7 740.4 1353.6 742.2 1351.4 744.0 1348.6 745.8 1348.3 747.6 1346.5 749.4 1348.5 751.2 1351.4 753.0 1354.0 754.8 1352.2 756.6 1351.6 758.4 1351.9 760.2 1351.0 762.0 1350.5 763.8 1352.4 765.6 1352.5 767.4 1353.3 769.2 1352.1 771.0 1349.4 772.8 1349.1 774.6 1349.4 776.4 1349.8 778.2 1350.6 780.0 1349.8 781.8 1349.6 783.6 1352.3 785.4 1352.6 787.2 1350.2 789.0 1348.2 790.8 1348.1 792.6 1347.9 794.4 1347.5 796.2 1347.7 798.0 1349.1 799.8 1349.6 801.6 1348.9 803.4 1347.4 805.2 1349.0 807.0 1350.8 808.8 1348.6 810.6 1348.1 812.4 1350.7 814.2 1348.1 816.0 1346.0 817.8 1346.5 819.6 1344.7 821.4 1344.7 823.2 1345.5 825.0 1343.0 826.8 1341.5 828.6 1343.6 830.4 1343.1 832.2 1339.9 834.0 1340.1 835.8 1341.2 837.6 1340.1 839.4 1339.1 841.2 1336.9 843.0 1334.9 844.8 1334.0 846.6 1333.7 848.4 1332.4 850.2 1328.3 852.0 1328.2 853.8 1330.8 855.6 1331.3 857.4 1329.3 859.2 1328.4 861.0 1326.3 862.8 1325.3 864.6 1326.3 866.4 1325.6 868.2 1323.6 870.0 1321.9 871.8 1322.3 873.6 1321.5 875.4 1320.1 877.2 1319.0 879.0 1318.0 880.8 1317.9 882.6 1317.5 884.4 1317.7 886.2 1315.7 888.0 1311.8 889.8 1309.6 891.6 1310.9 893.4 1311.3 895.2 1312.8 897.0 1310.9 898.8 1312.6 900.6 1315.8 902.4 1315.5 904.2 1316.0 906.0 1315.8 907.8 1314.9 909.6 1315.4 911.4 1314.0 913.2 1315.2 915.0 1317.7 916.8 1316.0 918.6 1315.1 920.4 1314.5 922.2 1316.1 924.0 1314.3 925.8 1313.6 927.6 1313.7 929.4 1313.1 931.2 1312.8 933.0 1313.9 934.8 1314.2 936.6 1314.1 938.4 1312.8 940.2 1312.5 942.0 1313.1 943.8 1313.1 945.6 1312.0 947.4 1312.3 949.2 1312.6 951.0 1313.5 952.8 1312.8 954.6 1312.0 956.4 1311.0 958.2 1309.0 960.0 1309.4 961.8 1307.4 963.6 1305.1 965.4 1303.9 967.2 1301.9 969.0 1302.7 970.8 1299.4 972.6 1294.9 974.4 1293.3 976.2 1292.8 978.0 1292.0 979.8 1292.1 981.6 1291.6 983.4 1290.0 985.2 1286.8 987.0 1283.3 988.8 1282.9 990.6 1279.7 992.4 1273.1 994.2 1270.8 996.0 1268.7 997.8 1266.3 999.6 1265.6 1001.4 1262.8 1003.2 1258.7 1005.0 1253.8 1006.8 1250.0 1008.6 1248.6 1010.4 1246.7 1012.2 1243.7 1014.0 1240.0 1015.8 1238.7 1017.6 1238.7 1019.4 1237.8 1021.2 1235.3 1023.0 1233.9 1024.8 1233.1 1026.6 1232.8 1028.4 1232.6 1030.2 1230.1 1032.0 1229.0 1033.8 1227.8 1035.6 1229.8 1037.4 1230.0 1039.2 1229.5 1041.0 1228.3 1042.8 1227.4 1044.6 1226.9 1046.4 1229.6 1048.2 1230.7 1050.0 1228.6 1051.8 1232.8 1053.6 1233.6 1055.4 1236.5 1057.2 1239.1 1059.0 1243.6 1060.8 1248.3 1062.6 1251.4 1064.4 1256.0 1066.2 1258.0 1068.0 1260.6 1069.8 1262.3 1071.6 1265.1 1073.4 1268.8 1075.2 1273.6 1077.0 1278.0 1078.8 1278.8 1080.6 1279.6 1082.4 1282.6 1084.2 1285.8 1086.0 1290.7 1087.8 1293.4 1089.6 1294.9 1091.4 1298.9 1093.2 1303.6 1095.0 1306.0 1096.8 1307.8 1098.6 1311.8 1100.4 1314.3 1102.2 1316.2 1104.0 1320.4 1105.8 1324.5 1107.6 1324.8 1109.4 1328.2 1111.2 1330.0 1113.0 1332.3 1114.8 1334.0 1116.6 1335.2 1118.4 1336.1 1120.2 1337.9 1122.0 1340.2 1123.8 1340.6 1125.6 1340.0 1127.4 1343.2 1129.2 1346.1 1131.0 1346.6 1132.8 1345.4 1134.6 1344.3 1136.4 1347.5 1138.2 1349.9 1140.0 1350.8 1141.8 1349.1 1143.6 1349.8 1145.4 1350.8 1147.2 1351.5 1149.0 1351.3 1150.8 1353.3 1152.6 1354.8 1154.4 1356.4 1156.2 1358.4 1158.0 1356.7 1159.8 1356.9 1161.6 1358.6 1163.4 1358.0 1165.2 1359.5 1167.0 1359.0 1168.8 1357.3 1170.6 1357.3 1172.4 1358.4 1174.2 1358.7 1176.0 1358.9 1177.8 1359.0 1179.6 1360.1 1181.4 1359.5 1183.2 1359.9 1185.0 1360.5 1186.8 1360.2 1188.6 1361.6 1190.4 1362.2 1192.2 1360.9 1194.0 1361.7 1195.8 1365.3 1197.6 1364.9 1199.4 1364.3 1201.2 1364.6 1203.0 1366.5 1204.8 1364.3 1206.6 1362.2 1208.4 1363.8 1210.2 1363.3 1212.0 1364.1 1213.8 1364.4 1215.6 1365.6 1217.4 1364.6 1219.2 1363.7 1221.0 1366.2 1222.8 1367.3 1224.6 1364.1 1226.4 1364.5 1228.2 1364.4 1230.0 1363.6 1231.8 1361.7 1233.6 1362.7 1235.4 1365.9 1237.2 1365.4 1239.0 1365.4 1240.8 1368.5 1242.6 1369.0 1244.4 1367.8 1246.2 1366.2 1248.0 1367.9 1249.8 1369.2 1251.6 1365.6 1253.4 1365.3 1255.2 1367.6 1257.0 1370.3 1258.8 1370.4 1260.6 1370.4 1262.4 1370.3 1264.2 1370.7 1266.0 1373.5 1267.8 1376.0 1269.6 1373.3 1271.4 1372.4 1273.2 1371.5 1275.0 1372.9 1276.8 1371.9 1278.6 1371.2 1280.4 1370.3 1282.2 1369.8 1284.0 1369.9 1285.8 1369.3 1287.6 1370.2 1289.4 1373.8 1291.2 1373.7 1293.0 1373.6 1294.8 1372.4 1296.6 1370.3 1298.4 1371.1 1300.2 1370.6 1302.0 1370.7 1303.8 1371.9 1305.6 1372.6 1307.4 1372.7 1309.2 1372.6 1311.0 1372.2 1312.8 1373.1 1314.6 1375.4 1316.4 1376.8 1318.2 1375.2 1320.0 1373.2 1321.8 1373.7 1323.6 1374.8 1325.4 1375.2 1327.2 1375.6 1329.0 1375.3 1330.8 1373.8 1332.6 1371.9 1334.4 1371.1 1336.2 1373.9 1338.0 1373.8 1339.8 1371.9 1341.6 1372.3 1343.4 1372.1 1345.2 1372.8 1347.0 1374.9 1348.8 1374.2 1350.6 1376.0 1352.4 1373.4 1354.2 1371.8 1356.0 1373.6 1357.8 1375.5 1359.6 1372.7 1361.4 1370.3 1363.2 1367.3 1365.0 1368.2 1366.8 1366.6 1368.6 1367.5 1370.4 1368.9 1372.2 1367.6 1374.0 1367.8 1375.8 1367.0 1377.6 1366.9 1379.4 1368.3 1381.2 1369.5 1383.0 1368.8 1384.8 1368.1 1386.6 1366.7 1388.4 1366.5 1390.2 1368.8 1392.0 1369.8 1393.8 1371.2 1395.6 1372.9 1397.4 1372.8 1399.2 1371.6 1401.0 1373.0 1402.8 1374.0 1404.6 1372.9 1406.4 1371.1 1408.2 1372.9 1410.0 1375.2 1411.8 1376.2 1413.6 1374.6 1415.4 1373.8 1417.2 1376.3 1419.0 1375.2 1420.8 1374.2 1422.6 1375.1 1424.4 1375.1 1426.2 1373.6 1428.0 1372.2 1429.8 1372.3 1431.6 1373.4 1433.4 1372.7 1435.2 1371.8 1437.0 1369.2 1438.8 1369.9 1440.6 1370.5 1442.4 1369.7 1444.2 1368.3 1446.0 1370.7 1447.8 1373.6 1449.6 1372.4 1451.4 1370.5 1453.2 1369.6 1455.0 1369.4 1456.8 1370.8 1458.6 1370.4 1460.4 1371.1 1462.2 1373.1 1464.0 1373.6 1465.8 1372.2 1467.6 1369.4 1469.4 1370.7 1471.2 1372.6 1473.0 1371.3 1474.8 1373.1 1476.6 1372.9 1478.4 1373.1 1480.2 1371.4 1482.0 1369.8 1483.8 1370.9 1485.6 1373.7 1487.4 1372.1 1489.2 1371.2 1491.0 1372.8 1492.8 1371.5 1494.6 1372.9 1496.4 1374.7 1498.2 1375.4 1500.0 1375.7 1501.8 1374.4 1503.6 1372.5 1505.4 1375.3 1507.2 1376.3 1509.0 1376.5 1510.8 1377.5 1512.6 1377.9 1514.4 1377.5 1516.2 1378.8 1518.0 1378.8 1519.8 1375.6 1521.6 1372.7 1523.4 1371.4 1525.2 1372.2 1527.0 1371.3 1528.8 1375.2 1530.6 1376.2 1532.4 1375.7 1534.2 1377.2 1536.0 1376.3 1537.8 1376.3 1539.6 1377.9 1541.4 1376.7 1543.2 1377.3 1545.0 1377.9 1546.8 1379.2 1548.6 1378.5 1550.4 1379.1 1552.2 1377.6 1554.0 1374.5 1555.8 1372.4 1557.6 1371.7 1559.4 1372.8 1561.2 1370.6 1563.0 1371.2 1564.8 1370.8 1566.6 1373.2 1568.4 1375.3 1570.2 1374.1 1572.0 1374.1 1573.8 1375.0 1575.6 1375.6 1577.4 1374.6 1579.2 1376.3 1581.0 1376.7 1582.8 1375.7 1584.6 1376.7 1586.4 1379.9 1588.2 1380.5 1590.0 1379.6 1591.8 1378.2 1593.6 1378.1 1595.4 1377.0 1597.2 1376.6 1599.0 1378.2 1600.8 1378.3 1602.6 1377.4 1604.4 1377.8 1606.2 1379.7 1608.0 1378.7 1609.8 1378.5 1611.6 1381.2 1613.4 1378.6 1615.2 1379.0 1617.0 1379.0 1618.8 1380.4 1620.6 1380.8 1622.4 1381.2 1624.2 1379.5 1626.0 1378.6 1627.8 1380.0 1629.6 1378.2 1631.4 1376.6 1633.2 1375.7 1635.0 1374.9 1636.8 1376.4 1638.6 1378.4 1640.4 1378.2 1642.2 1376.7 1644.0 1376.8 1645.8 1376.5 1647.6 1375.8 1649.4 1377.7 1651.2 1376.1 1653.0 1373.9 1654.8 1375.8 1656.6 1375.4 1658.4 1376.6 1660.2 1377.3 1662.0 1376.3 1663.8 1377.1 1665.6 1377.5 1667.4 1373.9 1669.2 1372.6 1671.0 1374.6 1672.8 1376.1 1674.6 1378.5 1676.4 1377.6 1678.2 1375.9 1680.0 1373.7 1681.8 1370.9 1683.6 1371.0 1685.4 1372.6 1687.2 1373.2 1689.0 1372.5 1690.8 1372.9 1692.6 1373.0 1694.4 1371.2 1696.2 1370.3 1698.0 1370.2 1699.8 1370.9 1701.6 1368.1 1703.4 1369.7 1705.2 1369.2 1707.0 1365.5 1708.8 1366.5 1710.6 1367.9 1712.4 1365.5 1714.2 1364.8 1716.0 1366.0 1717.8 1367.6 1719.6 1366.5 1721.4 1363.9 1723.2 1362.2 1725.0 1362.5 1726.8 1363.7 1728.6 1361.8 1730.4 1363.3 1732.2 1364.7 1734.0 1363.1 1735.8 1363.4 1737.6 1364.4 1739.4 1364.5 1741.2 1362.1 1743.0 1362.4 1744.8 1362.2 1746.6 1360.8 1748.4 1358.9 1750.2 1359.9 1752.0 1359.2 1753.8 1359.4 1755.6 1360.1 1757.4 1363.0 1759.2 1362.9 1761.0 1363.9 1762.8 1361.5 1764.6 1361.9 1766.4 1364.0 1768.2 1363.0 1770.0 1363.9 1771.8 1365.0 1773.6 1363.6 1775.4 1363.3 1777.2 1365.0 1779.0 1367.4 1780.8 1368.3 1782.6 1369.2 1784.4 1368.0 1786.2 1367.2 1788.0 1367.1 1789.8 1368.1 1791.6 1368.5 1793.4 1368.8 1795.2 1368.1 1797.0 1368.4 1798.8 1369.8 1800.6 1371.3 1802.4 1370.0 1804.2 1369.9 1806.0 1372.3 1807.8 1372.8 1809.6 1370.7 1811.4 1369.4 1813.2 1367.4 1815.0 1367.8 1816.8 1370.8 1818.6 1373.8 1820.4 1374.7 1822.2 1372.9 1824.0 1371.2 1825.8 1371.1 1827.6 1369.6 1829.4 1370.2 1831.2 1370.0 1833.0 1371.9 1834.8 1374.9 1836.6 1375.8 1838.4 1373.7 1840.2 1372.3 1842.0 1370.1 1843.8 1371.7 1845.6 1375.2 1847.4 1375.7 1849.2 1375.1 1851.0 1375.1 1852.8 1375.9 1854.6 1374.0 1856.4 1374.8 1858.2 1377.4 1860.0 1374.4 1861.8 1374.3 1863.6 1374.8 1865.4 1376.3 1867.2 1374.8 1869.0 1373.9 1870.8 1374.5 1872.6 1375.3 1874.4 1373.2 1876.2 1372.3 1878.0 1374.0 1879.8 1374.7 1881.6 1375.5 1883.4 1374.6 1885.2 1374.3 1887.0 1375.6 1888.8 1376.5 1890.6 1377.0 1892.4 1375.1 1894.2 1372.9 1896.0 1374.6 1897.8 1375.5 1899.6 1375.7 1901.4 1376.2 1903.2 1376.0 1905.0 1377.0 1906.8 1376.5 1908.6 1377.1 1910.4 1373.8 1912.2 1371.6 1914.0 1374.7 1915.8 1379.3 1917.6 1376.8 1919.4 1375.8 1921.2 1376.1 1923.0 1375.7 1924.8 1376.3 1926.6 1377.3 1928.4 1379.6 1930.2 1378.9 1932.0 1377.4 1933.8 1377.6 1935.6 1376.9 1937.4 1375.5 1939.2 1377.0 1941.0 1376.3 1942.8 1377.2 1944.6 1377.3 1946.4 1378.3 1948.2 1379.1 1950.0 1377.7 1951.8 1375.9 1953.6 1376.0 1955.4 1376.9 1957.2 1376.0 1959.0 1375.7 1960.8 1376.0 1962.6 1376.2 1964.4 1376.9 1966.2 1376.2 1968.0 1376.2 1969.8 1374.8 1971.6 1374.2 1973.4 1377.4 1975.2 1378.1 1977.0 1376.8 1978.8 1377.7 1980.6 1377.0 1982.4 1375.8 1984.2 1376.9 1986.0 1374.5 1987.8 1376.1 1989.6 1377.2 1991.4 1376.3 1993.2 1378.3 1995.0 1377.3 1996.8 1378.2 1998.6 1377.5 2000.4 1377.7 2002.2 1378.2 2004.0 1380.4 2005.8 1379.1 2007.6 1378.9 2009.4 1378.5 2011.2 1377.5 2013.0 1376.9 2014.8 1377.9 2016.6 1379.0 2018.4 1379.0 2020.2 1378.2 2022.0 1377.5 2023.8 1377.6 2025.6 1376.1 2027.4 1375.7 2029.2 1374.0 2031.0 1375.2 2032.8 1376.0 2034.6 1374.6 2036.4 1375.4 2038.2 1378.2 2040.0 1378.9 2041.8 1379.6 2043.6 1379.7 2045.4 1379.1 2047.2 1378.9 2049.0 1378.7 2050.8 1378.6 2052.6 1375.8 2054.4 1376.9 2056.2 1379.1 2058.0 1379.1 2059.8 1377.7 2061.6 1377.4 2063.4 1378.4 2065.2 1377.1 2067.0 1376.4 2068.8 1378.4 2070.6 1377.6 2072.4 1376.8 2074.2 1374.2 2076.0 1373.4 2077.8 1377.7 2079.6 1379.0 2081.4 1374.9 2083.2 1376.1 2085.0 1378.2 2086.8 1378.2 2088.6 1377.8 2090.4 1377.2 2092.2 1376.8 2094.0 1379.2 2095.8 1379.7 2097.6 1377.6 2099.4 1375.5 2101.2 1379.0 2103.0 1378.7 2104.8 1379.4 2106.6 1381.3 2108.4 1380.5 2110.2 1378.8 2112.0 1379.5 2113.8 1378.9 2115.6 1377.4 2117.4 1377.0 2119.2 1374.8 2121.0 1375.0 2122.8 1378.1 2124.6 1379.5 2126.4 1377.8 2128.2 1379.3 2130.0 1379.6 2131.8 1380.4 2133.6 1379.7 2135.4 1382.2 2137.2 1380.0 2139.0 1378.1 2140.8 1377.5 2142.6 1375.9 2144.4 1377.6 2146.2 1377.9" stroke="#860a82" stroke-width="6.2"/>
<path class="c" d="M141.0 1503.9 142.8 1502.1 144.6 1498.7 146.4 1498.7 148.2 1500.9 150.0 1501.8 151.8 1503.4 153.6 1502.4 155.4 1503.3 157.2 1503.8 159.0 1505.1 160.8 1504.0 162.6 1502.9 164.4 1502.0 166.2 1503.3 168.0 1503.9 169.8 1503.4 171.6 1503.3 173.4 1501.8 175.2 1502.3 177.0 1503.1 178.8 1503.1 180.6 1504.5 182.4 1503.9 184.2 1502.0 186.0 1501.6 187.8 1502.6 189.6 1502.5 191.4 1502.7 193.2 1503.1 195.0 1505.4 196.8 1506.0 198.6 1506.7 200.4 1506.6 202.2 1504.3 204.0 1506.4 205.8 1507.8 207.6 1509.2 209.4 1509.8 211.2 1510.3 213.0 1510.2 214.8 1507.0 216.6 1507.7 218.4 1511.0 220.2 1511.2 222.0 1509.1 223.8 1510.3 225.6 1509.7 227.4 1506.8 229.2 1507.0 231.0 1508.1 232.8 1508.5 234.6 1509.9 236.4 1509.1 238.2 1508.0 240.0 1505.7 241.8 1504.4 243.6 1505.6 245.4 1508.4 247.2 1508.6 249.0 1505.6 250.8 1504.4 252.6 1503.4 254.4 1506.5 256.2 1506.4 258.0 1508.8 259.8 1509.9 261.6 1507.7 263.4 1508.5 265.2 1511.7 267.0 1513.0 268.8 1511.1 270.6 1510.5 272.4 1512.5 274.2 1513.3 276.0 1510.9 277.8 1511.2 279.6 1513.4 281.4 1512.6 283.2 1511.3 285.0 1512.1 286.8 1513.4 288.6 1514.0 290.4 1513.2 292.2 1511.8 294.0 1510.5 295.8 1512.6 297.6 1513.4 299.4 1513.0 301.2 1512.7 303.0 1513.1 304.8 1513.7 306.6 1512.0 308.4 1511.3 310.2 1513.1 312.0 1512.5 313.8 1512.4 315.6 1513.1 317.4 1512.6 319.2 1512.2 321.0 1512.0 322.8 1513.6 324.6 1512.4 326.4 1513.7 328.2 1511.8 330.0 1511.6 331.8 1512.8 333.6 1514.3 335.4 1513.8 337.2 1512.4 339.0 1512.1 340.8 1514.2 342.6 1514.1 344.4 1513.9 346.2 1513.1 348.0 1512.7 349.8 1513.6 351.6 1513.5 353.4 1513.5 355.2 1511.4 357.0 1509.4 358.8 1510.7 360.6 1510.1 362.4 1507.9 364.2 1504.9 366.0 1507.0 367.8 1508.9 369.6 1508.8 371.4 1509.8 373.2 1510.5 375.0 1509.7 376.8 1509.0 378.6 1510.5 380.4 1510.9 382.2 1509.6 384.0 1507.7 385.8 1508.8 387.6 1511.3 389.4 1510.3 391.2 1508.6 393.0 1510.1 394.8 1511.3 396.6 1512.1 398.4 1512.0 400.2 1511.4 402.0 1509.5 403.8 1508.4 405.6 1510.2 407.4 1511.9 409.2 1510.1 411.0 1510.9 412.8 1509.0 414.6 1508.8 416.4 1510.3 418.2 1510.0 420.0 1509.9 421.8 1509.5 423.6 1511.1 425.4 1511.6 427.2 1509.8 429.0 1511.3 430.8 1512.1 432.6 1511.2 434.4 1508.8 436.2 1510.6 438.0 1509.6 439.8 1509.7 441.6 1509.5 443.4 1508.6 445.2 1508.5 447.0 1508.9 448.8 1510.2 450.6 1510.6 452.4 1509.9 454.2 1510.3 456.0 1510.2 457.8 1510.0 459.6 1507.7 461.4 1508.3 463.2 1508.6 465.0 1508.7 466.8 1509.1 468.6 1509.3 470.4 1508.7 472.2 1508.4 474.0 1507.5 475.8 1507.0 477.6 1507.0 479.4 1508.7 481.2 1509.1 483.0 1508.8 484.8 1506.7 486.6 1507.3 488.4 1510.0 490.2 1508.2 492.0 1505.2 493.8 1506.5 495.6 1506.5 497.4 1505.3 499.2 1504.6 501.0 1503.9 502.8 1503.8 504.6 1503.2 506.4 1502.7 508.2 1503.0 510.0 1503.1 511.8 1504.7 513.6 1504.9 515.4 1503.0 517.2 1502.0 519.0 1501.7 520.8 1500.9 522.6 1500.0 524.4 1493.8 526.2 1491.5 528.0 1492.8 529.8 1494.6 531.6 1494.5 533.4 1492.8 535.2 1492.3 537.0 1492.1 538.8 1493.2 540.6 1493.3 542.4 1490.1 544.2 1493.2 546.0 1492.7 547.8 1490.5 549.6 1490.3 551.4 1489.8 553.2 1489.8 555.0 1489.5 556.8 1488.5 558.6 1486.2 560.4 1486.1 562.2 1484.4 564.0 1484.0 565.8 1484.4 567.6 1483.2 569.4 1483.5 571.2 1483.8 573.0 1483.1 574.8 1482.3 576.6 1484.0 578.4 1485.5 580.2 1486.9 582.0 1484.9 583.8 1485.8 585.6 1485.2 587.4 1485.8 589.2 1487.9 591.0 1486.9 592.8 1487.1 594.6 1486.3 596.4 1485.1 598.2 1485.6 600.0 1485.8 601.8 1486.9 603.6 1489.1 605.4 1487.4 607.2 1485.6 609.0 1488.7 610.8 1488.6 612.6 1489.0 614.4 1489.1 616.2 1486.9 618.0 1487.2 619.8 1487.0 621.6 1486.6 623.4 1486.8 625.2 1487.8 627.0 1489.1 628.8 1488.8 630.6 1488.3 632.4 1487.6 634.2 1484.2 636.0 1485.5 637.8 1486.6 639.6 1486.8 641.4 1487.3 643.2 1486.2 645.0 1485.9 646.8 1484.2 648.6 1483.7 650.4 1482.5 652.2 1481.5 654.0 1481.8 655.8 1481.2 657.6 1480.0 659.4 1481.1 661.2 1480.6 663.0 1479.4 664.8 1477.2 666.6 1478.7 668.4 1478.7 670.2 1480.8 672.0 1480.2 673.8 1480.2 675.6 1480.4 677.4 1479.8 679.2 1480.7 681.0 1480.4 682.8 1482.2 684.6 1484.8 686.4 1486.7 688.2 1487.3 690.0 1485.8 691.8 1485.7 693.6 1488.5 695.4 1490.2 697.2 1489.2 699.0 1491.0 700.8 1489.7 702.6 1487.7 704.4 1491.5 706.2 1495.1 708.0 1495.1 709.8 1495.4 711.6 1494.3 713.4 1491.6 715.2 1490.9 717.0 1492.9 718.8 1494.5 720.6 1494.4 722.4 1495.4 724.2 1498.2 726.0 1498.7 727.8 1495.6 729.6 1495.9 731.4 1497.7 733.2 1497.5 735.0 1497.5 736.8 1502.8 738.6 1502.7 740.4 1500.9 742.2 1499.3 744.0 1500.9 745.8 1501.1 747.6 1502.8 749.4 1503.2 751.2 1503.0 753.0 1502.9 754.8 1502.1 756.6 1501.6 758.4 1499.9 760.2 1502.4 762.0 1503.7 763.8 1505.8 765.6 1502.8 767.4 1500.3 769.2 1503.2 771.0 1501.8 772.8 1500.8 774.6 1502.5 776.4 1504.9 778.2 1505.3 780.0 1502.9 781.8 1502.6 783.6 1502.5 785.4 1501.3 787.2 1500.7 789.0 1500.4 790.8 1500.1 792.6 1499.1 794.4 1495.7 796.2 1496.4 798.0 1496.8 799.8 1496.7 801.6 1494.5 803.4 1493.6 805.2 1493.6 807.0 1492.7 808.8 1492.1 810.6 1491.7 812.4 1491.3 814.2 1490.7 816.0 1490.7 817.8 1490.4 819.6 1489.6 821.4 1489.3 823.2 1491.0 825.0 1490.3 826.8 1488.4 828.6 1486.9 830.4 1487.6 832.2 1486.7 834.0 1486.0 835.8 1485.9 837.6 1485.9 839.4 1486.4 841.2 1484.8 843.0 1484.6 844.8 1485.7 846.6 1486.0 848.4 1487.1 850.2 1488.2 852.0 1488.9 853.8 1488.0 855.6 1486.3 857.4 1485.4 859.2 1485.1 861.0 1485.4 862.8 1482.8 864.6 1480.1 866.4 1479.0 868.2 1479.2 870.0 1476.0 871.8 1473.4 873.6 1475.6 875.4 1475.5 877.2 1474.7 879.0 1473.7 880.8 1471.9 882.6 1470.0 884.4 1467.9 886.2 1464.7 888.0 1461.1 889.8 1459.9 891.6 1461.2 893.4 1460.6 895.2 1458.0 897.0 1456.3 898.8 1457.0 900.6 1456.4 902.4 1455.7 904.2 1454.7 906.0 1453.5 907.8 1454.1 909.6 1457.5 911.4 1461.5 913.2 1463.5 915.0 1463.4 916.8 1464.8 918.6 1465.7 920.4 1467.1 922.2 1469.0 924.0 1469.9 925.8 1469.7 927.6 1472.5 929.4 1471.3 931.2 1470.9 933.0 1473.3 934.8 1470.9 936.6 1470.3 938.4 1470.4 940.2 1470.7 942.0 1467.7 943.8 1468.9 945.6 1468.8 947.4 1471.8 949.2 1472.7 951.0 1470.0 952.8 1467.3 954.6 1468.4 956.4 1468.6 958.2 1465.3 960.0 1463.3 961.8 1463.2 963.6 1459.9 965.4 1459.2 967.2 1459.1 969.0 1458.9 970.8 1458.6 972.6 1456.0 974.4 1453.0 976.2 1451.5 978.0 1451.9 979.8 1451.8 981.6 1450.9 983.4 1447.9 985.2 1444.1 987.0 1443.2 988.8 1441.2 990.6 1440.4 992.4 1437.2 994.2 1434.4 996.0 1432.6 997.8 1431.8 999.6 1430.1 1001.4 1430.3 1003.2 1426.3 1005.0 1420.8 1006.8 1419.4 1008.6 1418.7 1010.4 1416.3 1012.2 1413.3 1014.0 1409.5 1015.8 1404.6 1017.6 1402.3 1019.4 1401.9 1021.2 1398.3 1023.0 1396.0 1024.8 1393.6 1026.6 1388.9 1028.4 1387.7 1030.2 1389.2 1032.0 1387.9 1033.8 1387.5 1035.6 1388.2 1037.4 1386.7 1039.2 1386.2 1041.0 1385.9 1042.8 1385.4 1044.6 1389.1 1046.4 1389.5 1048.2 1389.7 1050.0 1391.8 1051.8 1391.2 1053.6 1392.0 1055.4 1393.6 1057.2 1396.4 1059.0 1398.9 1060.8 1402.0 1062.6 1404.7 1064.4 1409.6 1066.2 1414.5 1068.0 1418.6 1069.8 1421.8 1071.6 1424.1 1073.4 1425.2 1075.2 1427.0 1077.0 1431.3 1078.8 1433.4 1080.6 1437.2 1082.4 1439.9 1084.2 1442.3 1086.0 1445.1 1087.8 1447.6 1089.6 1448.8 1091.4 1452.3 1093.2 1455.9 1095.0 1458.1 1096.8 1459.8 1098.6 1460.1 1100.4 1462.3 1102.2 1466.0 1104.0 1466.8 1105.8 1467.9 1107.6 1469.8 1109.4 1470.0 1111.2 1472.3 1113.0 1475.2 1114.8 1477.5 1116.6 1480.9 1118.4 1482.5 1120.2 1483.9 1122.0 1484.3 1123.8 1486.4 1125.6 1488.8 1127.4 1491.4 1129.2 1493.3 1131.0 1494.8 1132.8 1497.7 1134.6 1500.8 1136.4 1500.1 1138.2 1500.7 1140.0 1504.1 1141.8 1505.8 1143.6 1505.4 1145.4 1505.4 1147.2 1503.8 1149.0 1506.2 1150.8 1508.1 1152.6 1510.6 1154.4 1510.3 1156.2 1511.1 1158.0 1509.6 1159.8 1508.9 1161.6 1508.5 1163.4 1508.0 1165.2 1509.4 1167.0 1510.8 1168.8 1509.0 1170.6 1510.5 1172.4 1512.2 1174.2 1511.8 1176.0 1511.9 1177.8 1512.1 1179.6 1511.5 1181.4 1510.2 1183.2 1513.3 1185.0 1513.2 1186.8 1512.0 1188.6 1512.3 1190.4 1513.3 1192.2 1513.9 1194.0 1512.1 1195.8 1511.4 1197.6 1512.4 1199.4 1514.6 1201.2 1513.7 1203.0 1513.7 1204.8 1512.9 1206.6 1513.4 1208.4 1512.9 1210.2 1512.9 1212.0 1514.4 1213.8 1513.0 1215.6 1512.3 1217.4 1514.3 1219.2 1511.1 1221.0 1508.9 1222.8 1509.3 1224.6 1512.5 1226.4 1512.2 1228.2 1512.3 1230.0 1513.5 1231.8 1513.7 1233.6 1515.3 1235.4 1517.0 1237.2 1516.6 1239.0 1517.1 1240.8 1516.9 1242.6 1517.2 1244.4 1518.4 1246.2 1517.7 1248.0 1515.9 1249.8 1513.4 1251.6 1513.8 1253.4 1514.6 1255.2 1515.6 1257.0 1516.3 1258.8 1516.0 1260.6 1515.6 1262.4 1516.1 1264.2 1516.6 1266.0 1516.3 1267.8 1514.5 1269.6 1517.5 1271.4 1519.8 1273.2 1518.8 1275.0 1516.7 1276.8 1516.2 1278.6 1518.0 1280.4 1520.1 1282.2 1518.8 1284.0 1515.3 1285.8 1514.6 1287.6 1519.7 1289.4 1522.6 1291.2 1519.2 1293.0 1519.2 1294.8 1520.7 1296.6 1521.8 1298.4 1521.7 1300.2 1519.8 1302.0 1520.7 1303.8 1521.2 1305.6 1522.8 1307.4 1523.3 1309.2 1523.2 1311.0 1520.7 1312.8 1520.2 1314.6 1520.9 1316.4 1521.4 1318.2 1521.0 1320.0 1520.6 1321.8 1520.8 1323.6 1520.9 1325.4 1523.1 1327.2 1522.0 1329.0 1521.0 1330.8 1521.7 1332.6 1520.8 1334.4 1522.1 1336.2 1522.8 1338.0 1524.5 1339.8 1523.2 1341.6 1521.6 1343.4 1522.6 1345.2 1522.4 1347.0 1521.0 1348.8 1517.5 1350.6 1519.0 1352.4 1520.7 1354.2 1521.7 1356.0 1519.8 1357.8 1520.2 1359.6 1519.5 1361.4 1517.8 1363.2 1518.5 1365.0 1519.6 1366.8 1518.8 1368.6 1518.2 1370.4 1518.1 1372.2 1518.1 1374.0 1518.0 1375.8 1516.9 1377.6 1515.5 1379.4 1516.7 1381.2 1518.6 1383.0 1520.1 1384.8 1519.1 1386.6 1521.1 1388.4 1521.1 1390.2 1522.0 1392.0 1519.6 1393.8 1519.8 1395.6 1518.5 1397.4 1519.2 1399.2 1521.1 1401.0 1521.9 1402.8 1520.8 1404.6 1520.8 1406.4 1520.6 1408.2 1521.9 1410.0 1520.9 1411.8 1522.9 1413.6 1522.4 1415.4 1519.4 1417.2 1519.6 1419.0 1519.8 1420.8 1521.4 1422.6 1521.6 1424.4 1522.3 1426.2 1520.6 1428.0 1519.6 1429.8 1519.6 1431.6 1520.9 1433.4 1521.8 1435.2 1521.8 1437.0 1522.3 1438.8 1522.9 1440.6 1521.9 1442.4 1520.8 1444.2 1520.4 1446.0 1520.9 1447.8 1521.8 1449.6 1523.1 1451.4 1522.3 1453.2 1520.1 1455.0 1519.8 1456.8 1518.5 1458.6 1518.4 1460.4 1516.6 1462.2 1518.0 1464.0 1517.7 1465.8 1517.6 1467.6 1517.0 1469.4 1516.1 1471.2 1517.2 1473.0 1517.9 1474.8 1518.8 1476.6 1519.2 1478.4 1519.7 1480.2 1518.5 1482.0 1516.9 1483.8 1517.9 1485.6 1516.5 1487.4 1516.7 1489.2 1517.7 1491.0 1517.6 1492.8 1519.0 1494.6 1521.0 1496.4 1520.2 1498.2 1519.7 1500.0 1521.4 1501.8 1525.5 1503.6 1523.4 1505.4 1522.7 1507.2 1523.4 1509.0 1524.1 1510.8 1522.3 1512.6 1521.4 1514.4 1521.8 1516.2 1521.3 1518.0 1520.1 1519.8 1520.1 1521.6 1522.1 1523.4 1523.1 1525.2 1524.4 1527.0 1522.9 1528.8 1522.9 1530.6 1523.8 1532.4 1521.8 1534.2 1523.1 1536.0 1522.0 1537.8 1521.6 1539.6 1523.3 1541.4 1523.1 1543.2 1522.0 1545.0 1523.8 1546.8 1525.7 1548.6 1525.1 1550.4 1523.7 1552.2 1522.8 1554.0 1523.4 1555.8 1524.1 1557.6 1523.8 1559.4 1524.6 1561.2 1524.6 1563.0 1522.5 1564.8 1523.7 1566.6 1524.6 1568.4 1523.7 1570.2 1523.9 1572.0 1525.9 1573.8 1524.9 1575.6 1524.2 1577.4 1523.9 1579.2 1524.2 1581.0 1524.6 1582.8 1524.5 1584.6 1523.0 1586.4 1522.9 1588.2 1524.4 1590.0 1525.2 1591.8 1525.7 1593.6 1527.1 1595.4 1527.1 1597.2 1527.6 1599.0 1526.3 1600.8 1524.1 1602.6 1526.9 1604.4 1528.7 1606.2 1527.3 1608.0 1526.0 1609.8 1525.1 1611.6 1525.8 1613.4 1524.3 1615.2 1523.7 1617.0 1526.0 1618.8 1527.0 1620.6 1525.8 1622.4 1525.2 1624.2 1525.5 1626.0 1527.5 1627.8 1526.6 1629.6 1525.1 1631.4 1525.0 1633.2 1525.9 1635.0 1526.5 1636.8 1524.7 1638.6 1524.0 1640.4 1525.2 1642.2 1524.5 1644.0 1523.2 1645.8 1524.2 1647.6 1524.5 1649.4 1524.5 1651.2 1525.1 1653.0 1526.1 1654.8 1527.4 1656.6 1526.8 1658.4 1526.0 1660.2 1524.6 1662.0 1524.3 1663.8 1523.6 1665.6 1523.8 1667.4 1526.1 1669.2 1527.7 1671.0 1526.2 1672.8 1525.1 1674.6 1525.1 1676.4 1525.0 1678.2 1523.8 1680.0 1523.6 1681.8 1524.6 1683.6 1525.3 1685.4 1522.9 1687.2 1520.9 1689.0 1522.7 1690.8 1522.4 1692.6 1520.6 1694.4 1518.9 1696.2 1516.7 1698.0 1518.7 1699.8 1520.5 1701.6 1521.1 1703.4 1519.9 1705.2 1518.3 1707.0 1518.4 1708.8 1519.0 1710.6 1519.2 1712.4 1518.8 1714.2 1517.7 1716.0 1514.9 1717.8 1515.9 1719.6 1515.9 1721.4 1514.4 1723.2 1514.6 1725.0 1513.5 1726.8 1511.9 1728.6 1511.8 1730.4 1513.7 1732.2 1514.3 1734.0 1514.4 1735.8 1513.6 1737.6 1512.1 1739.4 1510.0 1741.2 1510.1 1743.0 1511.0 1744.8 1512.3 1746.6 1509.3 1748.4 1507.5 1750.2 1508.4 1752.0 1510.3 1753.8 1509.7 1755.6 1510.2 1757.4 1509.9 1759.2 1510.3 1761.0 1508.2 1762.8 1509.0 1764.6 1510.5 1766.4 1509.7 1768.2 1509.5 1770.0 1511.1 1771.8 1508.8 1773.6 1509.2 1775.4 1512.3 1777.2 1513.4 1779.0 1511.4 1780.8 1509.8 1782.6 1510.3 1784.4 1512.0 1786.2 1514.6 1788.0 1517.5 1789.8 1518.5 1791.6 1518.5 1793.4 1517.9 1795.2 1519.3 1797.0 1520.2 1798.8 1520.1 1800.6 1519.1 1802.4 1519.1 1804.2 1521.2 1806.0 1521.8 1807.8 1520.2 1809.6 1520.6 1811.4 1522.1 1813.2 1523.1 1815.0 1523.0 1816.8 1521.6 1818.6 1521.5 1820.4 1518.6 1822.2 1517.1 1824.0 1519.4 1825.8 1520.4 1827.6 1519.1 1829.4 1520.2 1831.2 1521.2 1833.0 1521.4 1834.8 1522.1 1836.6 1522.8 1838.4 1521.5 1840.2 1521.2 1842.0 1522.7 1843.8 1523.2 1845.6 1522.4 1847.4 1523.9 1849.2 1523.5 1851.0 1522.1 1852.8 1521.9 1854.6 1521.8 1856.4 1523.2 1858.2 1523.9 1860.0 1524.2 1861.8 1520.0 1863.6 1520.2 1865.4 1522.1 1867.2 1523.4 1869.0 1522.7 1870.8 1522.4 1872.6 1523.4 1874.4 1523.1 1876.2 1523.9 1878.0 1525.1 1879.8 1524.5 1881.6 1521.8 1883.4 1522.2 1885.2 1523.8 1887.0 1523.3 1888.8 1523.0 1890.6 1524.2 1892.4 1524.3 1894.2 1524.8 1896.0 1525.0 1897.8 1524.2 1899.6 1525.1 1901.4 1524.7 1903.2 1524.8 1905.0 1524.7 1906.8 1521.8 1908.6 1520.9 1910.4 1522.3 1912.2 1524.7 1914.0 1524.4 1915.8 1523.1 1917.6 1521.9 1919.4 1521.7 1921.2 1523.8 1923.0 1524.4 1924.8 1525.1 1926.6 1525.6 1928.4 1525.5 1930.2 1525.9 1932.0 1525.0 1933.8 1526.2 1935.6 1525.2 1937.4 1523.9 1939.2 1525.2 1941.0 1526.6 1942.8 1523.5 1944.6 1522.9 1946.4 1523.7 1948.2 1524.5 1950.0 1525.3 1951.8 1526.7 1953.6 1525.2 1955.4 1525.0 1957.2 1523.7 1959.0 1522.8 1960.8 1523.8 1962.6 1524.4 1964.4 1525.8 1966.2 1526.2 1968.0 1525.0 1969.8 1525.3 1971.6 1524.5 1973.4 1525.7 1975.2 1523.3 1977.0 1523.4 1978.8 1524.5 1980.6 1523.8 1982.4 1523.3 1984.2 1524.6 1986.0 1524.1 1987.8 1524.8 1989.6 1523.7 1991.4 1525.6 1993.2 1526.3 1995.0 1526.1 1996.8 1526.1 1998.6 1524.8 2000.4 1525.0 2002.2 1525.7 2004.0 1523.8 2005.8 1523.9 2007.6 1524.2 2009.4 1524.2 2011.2 1523.3 2013.0 1521.6 2014.8 1523.8 2016.6 1525.6 2018.4 1526.7 2020.2 1526.0 2022.0 1524.3 2023.8 1523.8 2025.6 1523.4 2027.4 1523.8 2029.2 1524.4 2031.0 1526.1 2032.8 1526.1 2034.6 1525.7 2036.4 1524.7 2038.2 1524.9 2040.0 1525.3 2041.8 1524.5 2043.6 1525.8 2045.4 1526.2 2047.2 1524.9 2049.0 1524.7 2050.8 1525.0 2052.6 1527.3 2054.4 1527.1 2056.2 1526.9 2058.0 1525.4 2059.8 1524.4 2061.6 1525.8 2063.4 1528.0 2065.2 1528.6 2067.0 1527.4 2068.8 1526.3 2070.6 1526.8 2072.4 1527.0 2074.2 1525.5 2076.0 1526.4 2077.8 1525.5 2079.6 1526.4 2081.4 1527.3 2083.2 1526.8 2085.0 1526.9 2086.8 1527.7 2088.6 1526.1 2090.4 1525.3 2092.2 1525.0 2094.0 1526.4 2095.8 1527.2 2097.6 1525.6 2099.4 1524.0 2101.2 1526.2 2103.0 1526.8 2104.8 1525.3 2106.6 1525.5 2108.4 1525.7 2110.2 1525.2 2112.0 1526.1 2113.8 1525.7 2115.6 1523.4 2117.4 1521.7 2119.2 1524.2 2121.0 1527.6 2122.8 1527.7 2124.6 1525.3 2126.4 1524.8 2128.2 1527.2 2130.0 1527.5 2131.8 1528.0 2133.6 1528.3 2135.4 1526.6 2137.2 1525.2 2139.0 1524.3 2140.8 1524.6 2142.6 1524.3 2144.4 1525.8" stroke="#ff7115" stroke-width="6.8"/>
<path class="c" d="M141.0 1667.4 142.8 1668.9 144.6 1667.6 146.4 1667.2 148.2 1666.7 150.0 1667.7 151.8 1667.2 153.6 1669.0 155.4 1667.9 157.2 1664.6 159.0 1664.9 160.8 1667.2 162.6 1668.5 164.4 1669.9 166.2 1667.3 168.0 1667.1 169.8 1667.8 171.6 1668.9 173.4 1670.3 175.2 1667.9 177.0 1666.5 178.8 1669.7 180.6 1668.7 182.4 1666.0 184.2 1666.5 186.0 1667.6 187.8 1668.7 189.6 1669.4 191.4 1668.2 193.2 1667.2 195.0 1666.9 196.8 1667.9 198.6 1668.8 200.4 1668.3 202.2 1665.6 204.0 1666.8 205.8 1669.8 207.6 1671.8 209.4 1669.9 211.2 1665.4 213.0 1665.6 214.8 1669.0 216.6 1669.5 218.4 1670.2 220.2 1671.5 222.0 1669.3 223.8 1670.6 225.6 1669.9 227.4 1667.8 229.2 1665.9 231.0 1667.8 232.8 1671.3 234.6 1671.0 236.4 1671.3 238.2 1671.0 240.0 1670.4 241.8 1671.3 243.6 1670.9 245.4 1670.0 247.2 1669.5 249.0 1669.4 250.8 1670.5 252.6 1670.9 254.4 1671.9 256.2 1670.4 258.0 1668.6 259.8 1668.3 261.6 1672.3 263.4 1674.8 265.2 1671.2 267.0 1668.6 268.8 1671.2 270.6 1671.2 272.4 1672.2 274.2 1672.6 276.0 1672.7 277.8 1672.0 279.6 1671.8 281.4 1672.9 283.2 1672.4 285.0 1673.0 286.8 1671.7 288.6 1671.6 290.4 1671.5 292.2 1672.7 294.0 1671.3 295.8 1671.2 297.6 1673.3 299.4 1673.2 301.2 1672.0 303.0 1671.0 304.8 1672.2 306.6 1673.4 308.4 1673.4 310.2 1672.2 312.0 1672.2 313.8 1670.4 315.6 1671.6 317.4 1672.0 319.2 1673.3 321.0 1673.7 322.8 1676.0 324.6 1674.4 326.4 1672.5 328.2 1669.5 330.0 1670.7 331.8 1673.6 333.6 1673.2 335.4 1674.0 337.2 1673.0 339.0 1673.3 340.8 1672.5 342.6 1673.7 344.4 1674.6 346.2 1674.2 348.0 1671.7 349.8 1671.0 351.6 1673.0 353.4 1673.4 355.2 1672.9 357.0 1671.3 358.8 1672.5 360.6 1671.5 362.4 1670.0 364.2 1670.9 366.0 1672.5 367.8 1671.9 369.6 1671.3 371.4 1670.8 373.2 1670.7 375.0 1672.0 376.8 1670.2 378.6 1667.5 380.4 1667.1 382.2 1668.3 384.0 1669.3 385.8 1669.2 387.6 1666.6 389.4 1669.8 391.2 1671.0 393.0 1669.7 394.8 1670.4 396.6 1668.7 398.4 1668.3 400.2 1669.0 402.0 1671.4 403.8 1671.7 405.6 1670.4 407.4 1667.8 409.2 1667.9 411.0 1667.3 412.8 1668.6 414.6 1670.1 416.4 1670.7 418.2 1669.1 420.0 1668.7 421.8 1667.9 423.6 1667.7 425.4 1670.4 427.2 1670.3 429.0 1670.9 430.8 1669.6 432.6 1666.6 434.4 1667.1 436.2 1669.3 438.0 1670.0 439.8 1669.5 441.6 1668.8 443.4 1668.8 445.2 1666.9 447.0 1666.6 448.8 1666.6 450.6 1668.9 452.4 1669.1 454.2 1668.8 456.0 1666.5 457.8 1663.7 459.6 1665.5 461.4 1667.5 463.2 1668.2 465.0 1669.4 466.8 1669.2 468.6 1667.6 470.4 1667.5 472.2 1665.7 474.0 1666.5 475.8 1664.9 477.6 1665.9 479.4 1664.4 481.2 1667.4 483.0 1669.4 484.8 1667.7 486.6 1668.2 488.4 1667.3 490.2 1662.3 492.0 1662.3 493.8 1664.7 495.6 1664.1 497.4 1665.8 499.2 1669.9 501.0 1669.3 502.8 1666.4 504.6 1664.3 506.4 1665.0 508.2 1664.7 510.0 1664.5 511.8 1664.8 513.6 1661.9 515.4 1663.8 517.2 1663.1 519.0 1663.5 520.8 1661.6 522.6 1659.8 524.4 1659.3 526.2 1660.1 528.0 1661.4 529.8 1664.0 531.6 1662.0 533.4 1658.0 535.2 1655.7 537.0 1656.9 538.8 1656.8 540.6 1654.3 542.4 1656.0 544.2 1657.5 546.0 1654.9 547.8 1653.3 549.6 1656.3 551.4 1657.6 553.2 1655.4 555.0 1655.4 556.8 1656.5 558.6 1655.3 560.4 1653.2 562.2 1653.1 564.0 1653.5 565.8 1654.0 567.6 1654.5 569.4 1652.4 571.2 1652.9 573.0 1651.7 574.8 1649.9 576.6 1652.6 578.4 1652.3 580.2 1649.8 582.0 1649.8 583.8 1654.0 585.6 1655.7 587.4 1653.9 589.2 1653.3 591.0 1654.1 592.8 1652.8 594.6 1653.3 596.4 1654.6 598.2 1653.5 600.0 1655.4 601.8 1655.8 603.6 1655.3 605.4 1652.8 607.2 1655.1 609.0 1655.0 610.8 1654.7 612.6 1652.9 614.4 1652.9 616.2 1655.6 618.0 1655.7 619.8 1655.6 621.6 1655.7 623.4 1654.7 625.2 1652.1 627.0 1652.9 628.8 1654.6 630.6 1657.6 632.4 1656.8 634.2 1653.0 636.0 1652.2 637.8 1655.1 639.6 1656.4 641.4 1656.3 643.2 1654.4 645.0 1656.6 646.8 1656.3 648.6 1656.5 650.4 1655.0 652.2 1653.0 654.0 1652.9 655.8 1653.3 657.6 1649.5 659.4 1653.1 661.2 1653.7 663.0 1652.1 664.8 1652.9 666.6 1651.6 668.4 1649.9 670.2 1651.1 672.0 1652.5 673.8 1651.7 675.6 1651.0 677.4 1652.9 679.2 1654.1 681.0 1654.6 682.8 1654.3 684.6 1655.0 686.4 1652.9 688.2 1652.1 690.0 1651.8 691.8 1653.6 693.6 1654.7 695.4 1654.4 697.2 1654.0 699.0 1655.8 700.8 1653.7 702.6 1652.9 704.4 1652.6 706.2 1657.6 708.0 1659.0 709.8 1658.0 711.6 1657.8 713.4 1656.1 715.2 1655.9 717.0 1657.0 718.8 1658.8 720.6 1658.9 722.4 1659.0 724.2 1657.6 726.0 1657.7 727.8 1660.3 729.6 1661.2 731.4 1661.1 733.2 1660.3 735.0 1660.4 736.8 1658.6 738.6 1659.2 740.4 1661.1 742.2 1659.9 744.0 1659.2 745.8 1660.8 747.6 1663.7 749.4 1662.4 751.2 1662.3 753.0 1663.2 754.8 1665.5 756.6 1663.6 758.4 1664.0 760.2 1664.1 762.0 1663.1 763.8 1661.4 765.6 1660.0 767.4 1662.9 769.2 1665.4 771.0 1664.4 772.8 1665.1 774.6 1663.9 776.4 1662.7 778.2 1660.9 780.0 1660.8 781.8 1662.0 783.6 1661.9 785.4 1658.5 787.2 1657.0 789.0 1658.1 790.8 1658.3 792.6 1659.0 794.4 1659.3 796.2 1657.1 798.0 1658.2 799.8 1656.7 801.6 1654.0 803.4 1652.4 805.2 1655.9 807.0 1656.9 808.8 1654.9 810.6 1653.6 812.4 1651.3 814.2 1648.9 816.0 1649.3 817.8 1648.7 819.6 1648.5 821.4 1649.1 823.2 1650.1 825.0 1651.9 826.8 1652.6 828.6 1651.0 830.4 1651.0 832.2 1649.6 834.0 1649.2 835.8 1649.5 837.6 1648.7 839.4 1648.9 841.2 1647.9 843.0 1646.9 844.8 1647.8 846.6 1650.2 848.4 1648.7 850.2 1647.1 852.0 1646.8 853.8 1645.3 855.6 1644.8 857.4 1643.8 859.2 1642.0 861.0 1643.0 862.8 1643.7 864.6 1642.8 866.4 1641.9 868.2 1641.7 870.0 1639.7 871.8 1640.7 873.6 1640.1 875.4 1638.6 877.2 1637.9 879.0 1634.7 880.8 1633.9 882.6 1632.6 884.4 1630.9 886.2 1630.8 888.0 1631.4 889.8 1631.4 891.6 1630.7 893.4 1628.8 895.2 1628.6 897.0 1628.2 898.8 1627.4 900.6 1626.8 902.4 1624.5 904.2 1625.1 906.0 1626.7 907.8 1628.2 909.6 1629.9 911.4 1630.6 913.2 1632.7 915.0 1631.7 916.8 1634.3 918.6 1632.3 920.4 1631.5 922.2 1632.5 924.0 1633.5 925.8 1634.4 927.6 1635.1 929.4 1636.6 931.2 1636.7 933.0 1635.3 934.8 1637.1 936.6 1636.6 938.4 1636.1 940.2 1636.7 942.0 1636.3 943.8 1636.7 945.6 1634.6 947.4 1635.8 949.2 1635.0 951.0 1635.2 952.8 1634.9 954.6 1636.5 956.4 1635.6 958.2 1634.3 960.0 1631.4 961.8 1630.3 963.6 1632.7 965.4 1634.1 967.2 1631.5 969.0 1629.4 970.8 1631.4 972.6 1629.6 974.4 1628.7 976.2 1626.0 978.0 1624.6 979.8 1623.3 981.6 1618.9 983.4 1618.5 985.2 1618.5 987.0 1616.7 988.8 1614.9 990.6 1616.0 992.4 1613.9 994.2 1611.0 996.0 1607.9 997.8 1608.4 999.6 1608.9 1001.4 1608.1 1003.2 1606.3 1005.0 1604.1 1006.8 1602.8 1008.6 1602.6 1010.4 1602.2 1012.2 1600.4 1014.0 1599.5 1015.8 1599.2 1017.6 1598.0 1019.4 1597.6 1021.2 1596.2 1023.0 1594.8 1024.8 1596.2 1026.6 1594.4 1028.4 1590.9 1030.2 1589.7 1032.0 1589.8 1033.8 1589.6 1035.6 1589.4 1037.4 1590.5 1039.2 1590.0 1041.0 1589.9 1042.8 1592.2 1044.6 1591.7 1046.4 1592.5 1048.2 1592.8 1050.0 1594.6 1051.8 1597.7 1053.6 1601.7 1055.4 1602.7 1057.2 1602.0 1059.0 1602.3 1060.8 1603.2 1062.6 1602.6 1064.4 1604.1 1066.2 1605.8 1068.0 1605.3 1069.8 1607.2 1071.6 1608.4 1073.4 1609.9 1075.2 1611.9 1077.0 1615.1 1078.8 1617.4 1080.6 1617.9 1082.4 1617.4 1084.2 1620.8 1086.0 1623.4 1087.8 1621.8 1089.6 1621.8 1091.4 1624.8 1093.2 1626.9 1095.0 1626.2 1096.8 1628.2 1098.6 1629.2 1100.4 1630.4 1102.2 1631.9 1104.0 1632.0 1105.8 1632.5 1107.6 1634.8 1109.4 1637.5 1111.2 1637.8 1113.0 1637.7 1114.8 1636.7 1116.6 1637.2 1118.4 1638.5 1120.2 1642.6 1122.0 1645.0 1123.8 1646.1 1125.6 1647.6 1127.4 1648.0 1129.2 1650.1 1131.0 1653.3 1132.8 1654.1 1134.6 1657.1 1136.4 1658.5 1138.2 1655.9 1140.0 1657.0 1141.8 1661.1 1143.6 1662.2 1145.4 1663.4 1147.2 1663.4 1149.0 1662.3 1150.8 1664.8 1152.6 1665.2 1154.4 1664.6 1156.2 1663.6 1158.0 1662.6 1159.8 1661.8 1161.6 1661.4 1163.4 1662.3 1165.2 1663.5 1167.0 1664.8 1168.8 1663.8 1170.6 1663.1 1172.4 1664.5 1174.2 1663.3 1176.0 1665.3 1177.8 1666.6 1179.6 1664.2 1181.4 1664.2 1183.2 1666.6 1185.0 1668.3 1186.8 1666.7 1188.6 1665.8 1190.4 1665.6 1192.2 1663.2 1194.0 1663.4 1195.8 1666.5 1197.6 1667.4 1199.4 1666.8 1201.2 1666.0 1203.0 1665.1 1204.8 1662.3 1206.6 1662.4 1208.4 1664.1 1210.2 1665.8 1212.0 1665.1 1213.8 1663.9 1215.6 1662.7 1217.4 1663.9 1219.2 1664.8 1221.0 1664.9 1222.8 1665.0 1224.6 1666.3 1226.4 1664.4 1228.2 1665.6 1230.0 1664.5 1231.8 1665.4 1233.6 1668.4 1235.4 1668.1 1237.2 1667.6 1239.0 1669.8 1240.8 1672.2 1242.6 1669.2 1244.4 1668.9 1246.2 1670.4 1248.0 1670.1 1249.8 1671.7 1251.6 1668.5 1253.4 1668.9 1255.2 1670.5 1257.0 1669.3 1258.8 1667.9 1260.6 1667.2 1262.4 1669.0 1264.2 1670.5 1266.0 1669.0 1267.8 1668.6 1269.6 1671.3 1271.4 1671.6 1273.2 1670.6 1275.0 1669.1 1276.8 1668.8 1278.6 1670.7 1280.4 1670.0 1282.2 1668.9 1284.0 1669.3 1285.8 1670.4 1287.6 1670.8 1289.4 1669.7 1291.2 1668.4 1293.0 1667.6 1294.8 1668.5 1296.6 1669.2 1298.4 1669.8 1300.2 1669.3 1302.0 1668.7 1303.8 1669.3 1305.6 1670.2 1307.4 1669.5 1309.2 1669.0 1311.0 1668.8 1312.8 1669.0 1314.6 1670.0 1316.4 1670.3 1318.2 1669.2 1320.0 1669.2 1321.8 1670.2 1323.6 1671.2 1325.4 1671.0 1327.2 1668.6 1329.0 1669.7 1330.8 1669.4 1332.6 1670.4 1334.4 1671.7 1336.2 1672.1 1338.0 1670.0 1339.8 1669.4 1341.6 1666.5 1343.4 1667.3 1345.2 1666.0 1347.0 1666.8 1348.8 1666.8 1350.6 1666.8 1352.4 1668.1 1354.2 1667.3 1356.0 1666.8 1357.8 1667.4 1359.6 1668.4 1361.4 1669.6 1363.2 1668.6 1365.0 1667.3 1366.8 1667.2 1368.6 1670.0 1370.4 1671.0 1372.2 1671.0 1374.0 1670.4 1375.8 1672.3 1377.6 1673.3 1379.4 1674.3 1381.2 1672.2 1383.0 1673.1 1384.8 1673.9 1386.6 1671.8 1388.4 1671.0 1390.2 1670.5 1392.0 1671.1 1393.8 1672.4 1395.6 1671.5 1397.4 1671.0 1399.2 1673.8 1401.0 1671.9 1402.8 1672.4 1404.6 1672.0 1406.4 1672.3 1408.2 1672.5 1410.0 1672.7 1411.8 1673.2 1413.6 1673.3 1415.4 1670.0 1417.2 1667.8 1419.0 1666.8 1420.8 1667.2 1422.6 1669.5 1424.4 1667.5 1426.2 1667.5 1428.0 1669.8 1429.8 1670.0 1431.6 1668.9 1433.4 1665.8 1435.2 1666.3 1437.0 1667.2 1438.8 1669.0 1440.6 1669.8 1442.4 1670.6 1444.2 1672.9 1446.0 1674.4 1447.8 1670.3 1449.6 1670.2 1451.4 1670.4 1453.2 1668.6 1455.0 1667.6 1456.8 1669.7 1458.6 1670.3 1460.4 1669.2 1462.2 1666.5 1464.0 1664.3 1465.8 1666.2 1467.6 1669.8 1469.4 1669.7 1471.2 1667.3 1473.0 1668.5 1474.8 1670.6 1476.6 1670.1 1478.4 1667.4 1480.2 1667.5 1482.0 1667.7 1483.8 1667.7 1485.6 1669.7 1487.4 1667.3 1489.2 1669.1 1491.0 1670.9 1492.8 1670.7 1494.6 1669.6 1496.4 1666.8 1498.2 1668.9 1500.0 1670.5 1501.8 1670.1 1503.6 1668.5 1505.4 1669.2 1507.2 1670.1 1509.0 1672.1 1510.8 1670.7 1512.6 1670.6 1514.4 1670.9 1516.2 1671.9 1518.0 1674.5 1519.8 1674.7 1521.6 1672.9 1523.4 1671.5 1525.2 1670.5 1527.0 1669.5 1528.8 1671.8 1530.6 1672.9 1532.4 1672.1 1534.2 1671.9 1536.0 1674.4 1537.8 1674.7 1539.6 1674.4 1541.4 1675.6 1543.2 1675.3 1545.0 1676.0 1546.8 1674.3 1548.6 1673.6 1550.4 1673.5 1552.2 1674.7 1554.0 1674.0 1555.8 1674.5 1557.6 1674.3 1559.4 1674.4 1561.2 1677.7 1563.0 1677.0 1564.8 1675.2 1566.6 1676.0 1568.4 1675.6 1570.2 1675.4 1572.0 1677.8 1573.8 1677.5 1575.6 1676.8 1577.4 1676.7 1579.2 1677.0 1581.0 1677.1 1582.8 1676.5 1584.6 1676.2 1586.4 1675.4 1588.2 1673.8 1590.0 1675.5 1591.8 1678.3 1593.6 1678.8 1595.4 1676.6 1597.2 1675.4 1599.0 1676.6 1600.8 1674.7 1602.6 1673.3 1604.4 1672.3 1606.2 1673.0 1608.0 1677.2 1609.8 1675.0 1611.6 1670.9 1613.4 1671.9 1615.2 1672.6 1617.0 1674.9 1618.8 1673.9 1620.6 1673.5 1622.4 1675.8 1624.2 1676.5 1626.0 1673.9 1627.8 1673.3 1629.6 1673.2 1631.4 1675.0 1633.2 1674.9 1635.0 1674.0 1636.8 1673.7 1638.6 1675.6 1640.4 1674.9 1642.2 1676.1 1644.0 1675.8 1645.8 1672.9 1647.6 1673.4 1649.4 1673.8 1651.2 1672.6 1653.0 1673.6 1654.8 1673.7 1656.6 1671.8 1658.4 1673.0 1660.2 1674.1 1662.0 1673.3 1663.8 1672.3 1665.6 1671.6 1667.4 1673.2 1669.2 1673.8 1671.0 1673.9 1672.8 1674.9 1674.6 1673.3 1676.4 1672.8 1678.2 1674.8 1680.0 1674.3 1681.8 1674.1 1683.6 1673.4 1685.4 1670.5 1687.2 1669.9 1689.0 1671.4 1690.8 1668.0 1692.6 1669.0 1694.4 1671.2 1696.2 1669.4 1698.0 1669.4 1699.8 1669.1 1701.6 1671.5 1703.4 1669.7 1705.2 1668.6 1707.0 1666.8 1708.8 1668.4 1710.6 1668.5 1712.4 1667.2 1714.2 1667.6 1716.0 1666.9 1717.8 1666.7 1719.6 1665.5 1721.4 1664.6 1723.2 1664.2 1725.0 1665.6 1726.8 1665.1 1728.6 1665.0 1730.4 1667.2 1732.2 1665.8 1734.0 1664.4 1735.8 1664.2 1737.6 1665.8 1739.4 1664.9 1741.2 1663.4 1743.0 1664.0 1744.8 1665.1 1746.6 1665.2 1748.4 1666.3 1750.2 1667.0 1752.0 1667.2 1753.8 1664.0 1755.6 1663.4 1757.4 1663.4 1759.2 1663.4 1761.0 1663.6 1762.8 1663.7 1764.6 1664.2 1766.4 1662.5 1768.2 1663.6 1770.0 1665.3 1771.8 1665.7 1773.6 1664.8 1775.4 1664.8 1777.2 1665.0 1779.0 1665.4 1780.8 1665.3 1782.6 1666.8 1784.4 1668.6 1786.2 1669.1 1788.0 1666.9 1789.8 1667.4 1791.6 1667.4 1793.4 1667.2 1795.2 1666.5 1797.0 1667.3 1798.8 1668.1 1800.6 1667.6 1802.4 1667.6 1804.2 1669.3 1806.0 1668.4 1807.8 1667.6 1809.6 1667.8 1811.4 1667.4 1813.2 1667.2 1815.0 1668.4 1816.8 1667.6 1818.6 1666.9 1820.4 1669.0 1822.2 1667.7 1824.0 1666.2 1825.8 1667.4 1827.6 1667.6 1829.4 1667.9 1831.2 1666.9 1833.0 1666.8 1834.8 1665.6 1836.6 1666.1 1838.4 1668.0 1840.2 1668.8 1842.0 1670.3 1843.8 1668.7 1845.6 1668.3 1847.4 1668.0 1849.2 1670.5 1851.0 1669.1 1852.8 1667.2 1854.6 1668.6 1856.4 1669.6 1858.2 1672.5 1860.0 1671.4 1861.8 1669.1 1863.6 1670.2 1865.4 1670.3 1867.2 1669.1 1869.0 1668.8 1870.8 1668.6 1872.6 1668.3 1874.4 1669.4 1876.2 1669.1 1878.0 1669.2 1879.8 1668.9 1881.6 1669.5 1883.4 1672.3 1885.2 1671.5 1887.0 1672.2 1888.8 1674.0 1890.6 1670.9 1892.4 1668.3 1894.2 1666.8 1896.0 1667.8 1897.8 1669.9 1899.6 1667.8 1901.4 1667.0 1903.2 1669.6 1905.0 1671.3 1906.8 1672.3 1908.6 1670.1 1910.4 1670.6 1912.2 1668.9 1914.0 1672.0 1915.8 1671.8 1917.6 1670.8 1919.4 1672.8 1921.2 1672.7 1923.0 1672.6 1924.8 1672.7 1926.6 1673.8 1928.4 1673.0 1930.2 1670.7 1932.0 1670.2 1933.8 1671.1 1935.6 1673.3 1937.4 1673.8 1939.2 1673.0 1941.0 1672.1 1942.8 1671.8 1944.6 1673.2 1946.4 1674.3 1948.2 1674.8 1950.0 1676.0 1951.8 1675.6 1953.6 1674.1 1955.4 1676.6 1957.2 1676.0 1959.0 1673.9 1960.8 1673.5 1962.6 1673.3 1964.4 1671.8 1966.2 1671.4 1968.0 1672.1 1969.8 1670.7 1971.6 1668.7 1973.4 1671.2 1975.2 1670.3 1977.0 1671.9 1978.8 1671.8 1980.6 1671.7 1982.4 1672.8 1984.2 1671.1 1986.0 1670.8 1987.8 1672.4 1989.6 1672.4 1991.4 1671.1 1993.2 1670.5 1995.0 1671.0 1996.8 1672.5 1998.6 1673.3 2000.4 1673.4 2002.2 1672.0 2004.0 1671.2 2005.8 1673.9 2007.6 1676.8 2009.4 1675.0 2011.2 1671.8 2013.0 1672.6 2014.8 1672.2 2016.6 1671.7 2018.4 1671.2 2020.2 1670.1 2022.0 1669.8 2023.8 1671.5 2025.6 1670.6 2027.4 1670.6 2029.2 1671.3 2031.0 1671.8 2032.8 1671.4 2034.6 1671.4 2036.4 1671.5 2038.2 1672.3 2040.0 1673.3 2041.8 1674.5 2043.6 1673.2 2045.4 1671.8 2047.2 1673.0 2049.0 1673.3 2050.8 1671.4 2052.6 1670.0 2054.4 1669.4 2056.2 1673.1 2058.0 1673.6 2059.8 1673.3 2061.6 1669.5 2063.4 1668.3 2065.2 1671.0 2067.0 1671.1 2068.8 1671.5 2070.6 1671.4 2072.4 1672.7 2074.2 1671.9 2076.0 1671.9 2077.8 1672.4 2079.6 1671.5 2081.4 1671.9 2083.2 1673.6 2085.0 1672.6 2086.8 1672.6 2088.6 1672.9 2090.4 1672.7 2092.2 1673.7 2094.0 1675.4 2095.8 1673.8 2097.6 1669.6 2099.4 1668.0 2101.2 1668.8 2103.0 1667.2 2104.8 1666.8 2106.6 1669.0 2108.4 1670.4 2110.2 1672.1 2112.0 1673.8 2113.8 1675.0 2115.6 1671.9 2117.4 1671.2 2119.2 1672.8 2121.0 1673.9 2122.8 1672.2 2124.6 1669.9 2126.4 1668.8 2128.2 1672.5 2130.0 1673.5 2131.8 1675.7 2133.6 1677.0 2135.4 1676.6 2137.2 1675.0 2139.0 1674.0 2140.8 1672.0 2142.6 1673.1 2144.4 1673.6 2146.2 1674.5 2148.0 1673.3" stroke="#0a00d8" stroke-width="9.8"/>
<g fill="#808080" opacity="0.55">
<rect x="500.8" y="53.5" width="5.7" height="1688.9"/>
<rect x="665.1" y="52.3" width="5.1" height="1690.1"/>
<rect x="815.0" y="51.2" width="5.3" height="1691.2"/>
<rect x="1102.0" y="50.3" width="5.3" height="1692.1"/>
<rect x="895.6" y="50.2" width="5.3" height="443"/>
<rect x="898.1" y="493" width="5.6" height="1249.4"/>
</g>
<g fill="#000">
<polygon points="133.8,35 144.8,35 147.0,1757.5 136.2,1757.5"/>
<rect x="136.2" y="1741.4" width="2011.8" height="16.1"/>
<rect x="294.8" y="1756.5" width="9.8" height="23.0"/>
<rect x="595.4" y="1756.5" width="9.8" height="23.0"/>
<rect x="895.6" y="1756.5" width="9.8" height="23.0"/>
<rect x="1199.6" y="1756.5" width="9.8" height="23.0"/>
<rect x="1500.3" y="1756.5" width="9.8" height="23.0"/>
<rect x="1800.7" y="1756.5" width="9.8" height="23.0"/>
<rect x="2105.3" y="1756.5" width="9.8" height="23.0"/>
</g>
<text class="tick" x="303.8" y="1894.6">10</text>
<text class="tick" x="603.6" y="1894.6">15</text>
<text class="tick" x="904.4" y="1894.6">20</text>
<text class="tick" x="1207.0" y="1894.6">25</text>
<text class="tick" x="1508.6" y="1894.6">30</text>
<text class="tick" x="1806.6" y="1894.6">35</text>
<text class="tick" x="2113.5" y="1894.6">40</text>
<text class="lab" x="1869.5" y="739.5" style="font-size:64px;letter-spacing:0.6px">EZ-RM</text>
<text class="lab" x="1983.0" y="1016.3" style="font-size:64px;letter-spacing:1.5px">PM</text>
<text class="lab" x="1731.5" y="1170.3" style="font-size:62.5px;letter-spacing:0.75px">MS-K (1:0,1)</text>
<text class="lab" x="1734.5" y="1360.3" style="font-size:62.5px;letter-spacing:0.75px">MS-K (1:0,3)</text>
<text class="lab" x="1738.5" y="1497.6" style="font-size:62.5px;letter-spacing:0.75px">MS-K (1:0,6)</text>
<text class="lab" x="1707.8" y="1645.2" style="font-size:62.5px;letter-spacing:0.75px">MS-K (1:0,75)</text>
<text class="ttl" x="956" y="2003" style="letter-spacing:1.2px;word-spacing:-6.5px">2Theta (º)</text>
<text class="ttl" transform="translate(93 1198) rotate(-90)" style="letter-spacing:0.4px">Intensity (a.u.)</text>
</g>
</svg></body></html>
